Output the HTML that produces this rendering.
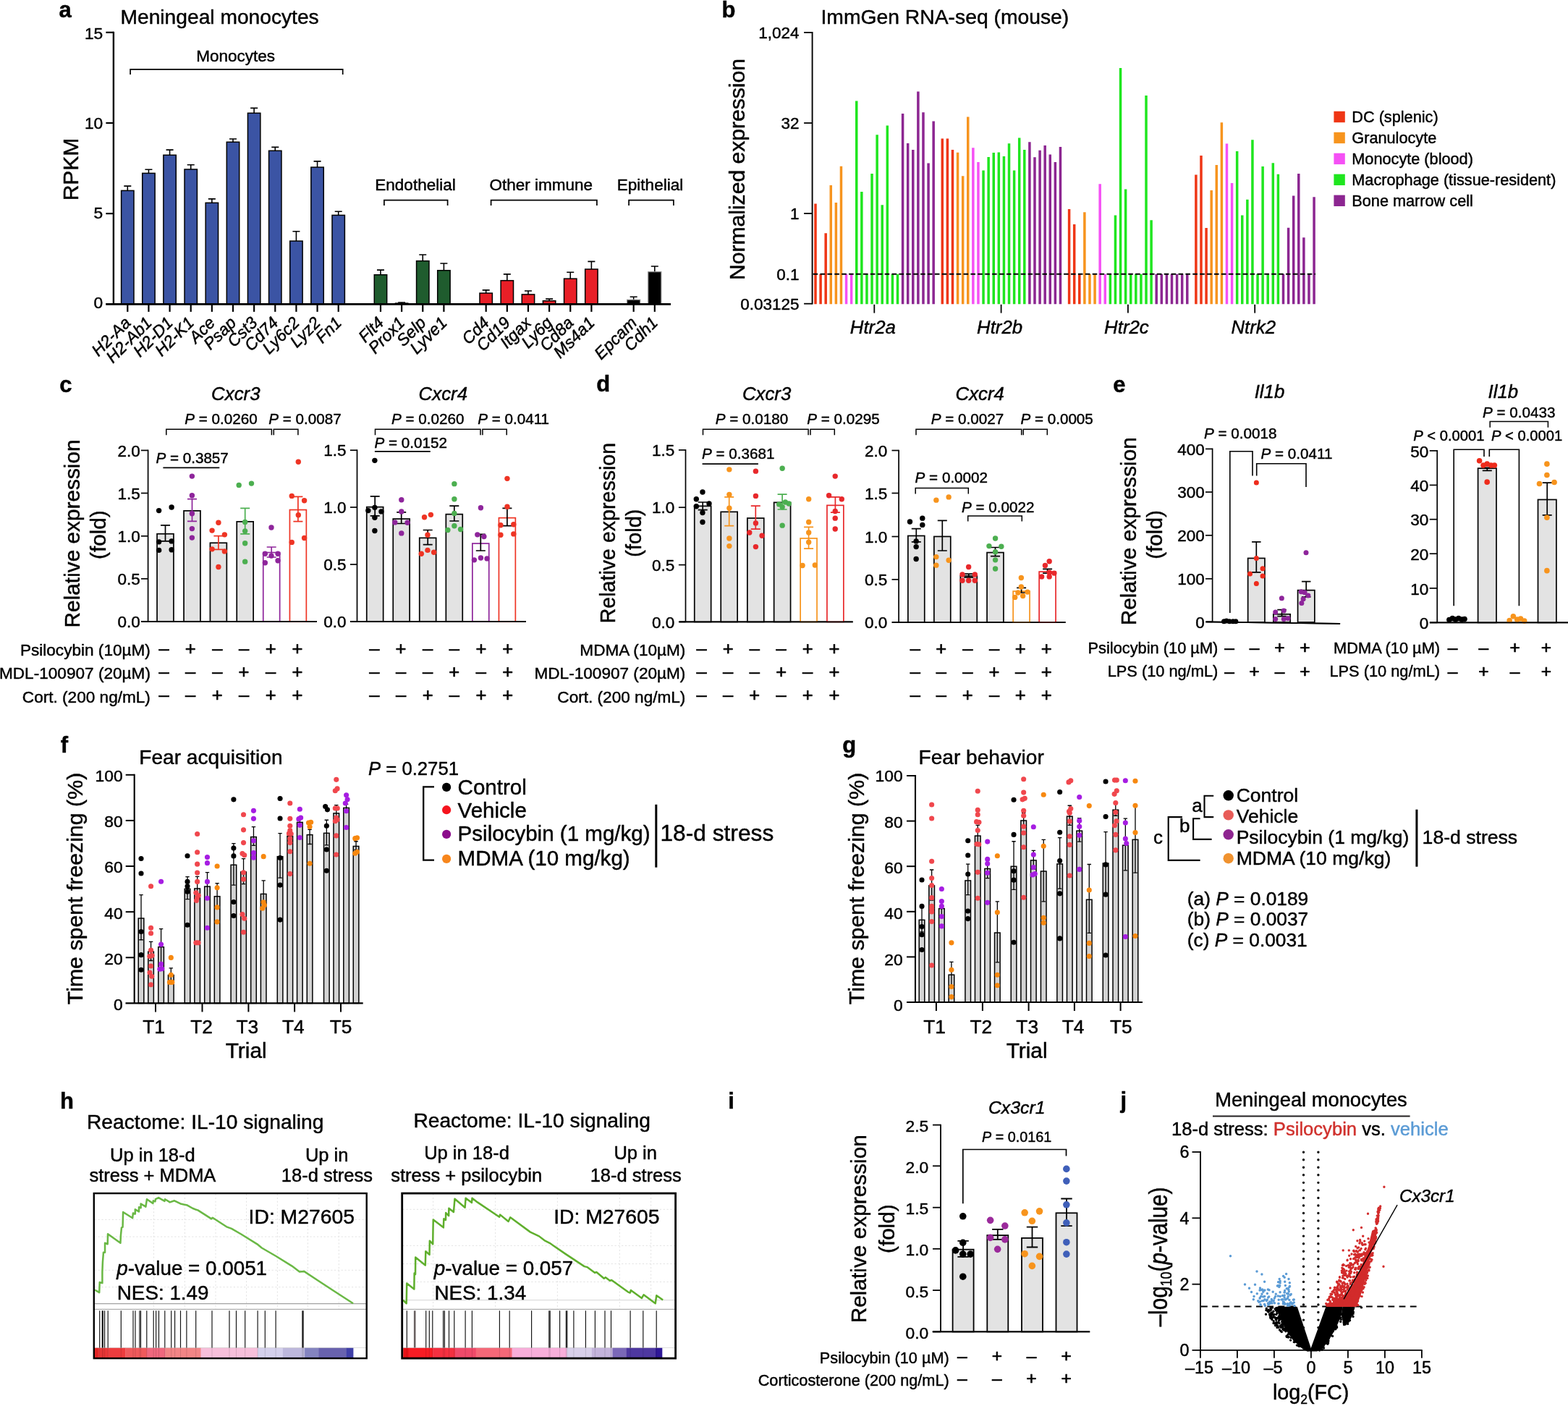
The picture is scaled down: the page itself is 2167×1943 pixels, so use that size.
<!DOCTYPE html>
<html lang="en"><head><meta charset="utf-8"><title>Figure</title>
<style>
html,body{margin:0;padding:0;background:#fff}
body{width:2167px;height:1943px;overflow:hidden}
svg{display:block;font-family:"Liberation Sans",Arial,Helvetica,sans-serif;fill:#000}
svg text{stroke:#000;stroke-width:.45px;stroke-linejoin:round}

</style></head><body>
<svg xmlns="http://www.w3.org/2000/svg" width="2167" height="1943" viewBox="0 0 2167 1943">
<rect width="2167" height="1943" fill="#fff"/>
<g id="panel_a">
<text font-weight="bold" x="81.6" y="23.8" font-size="31">a</text>
<text x="166.5" y="33" font-size="28.2">Meningeal monocytes</text>
<path d="M156.9 43.699999999999996V420.3" stroke="#000" stroke-width="2.4" fill="none"/>
<path d="M146.4 420.3H927" stroke="#000" stroke-width="2.4" fill="none"/>
<text text-anchor="end" x="142.3" y="425.75" font-size="22.8">0</text>
<path d="M146.4 295.13L156.9 295.13" stroke="#000" stroke-width="2.2"/>
<text text-anchor="end" x="142.3" y="301.7" font-size="22.8">5</text>
<path d="M146.4 169.97L156.9 169.97" stroke="#000" stroke-width="2.2"/>
<text text-anchor="end" x="142.3" y="177.65" font-size="22.8">10</text>
<path d="M146.4 44.8L156.9 44.8" stroke="#000" stroke-width="2.2"/>
<text text-anchor="end" x="142.3" y="53.6" font-size="22.8">15</text>
<text text-anchor="middle" transform="translate(108 234) rotate(-90)" font-size="30">RPKM</text>
<path d="M176.3 263.4V257.1M171.3 257.1h10" stroke="#000" stroke-width="1.6" fill="none"/>
<rect x="167.6" y="263.4" width="17.4" height="156.4" fill="#3B54A4" stroke="#000" stroke-width="1.5"/>
<path d="M176.3 420.3L176.3 430.9" stroke="#000" stroke-width="2.2"/>
<text text-anchor="end" font-style="italic" transform="translate(182.1 447.5) rotate(-45)" font-size="23">H2-Aa</text>
<path d="M205.44 239.4V234.3M200.44 234.3h10" stroke="#000" stroke-width="1.6" fill="none"/>
<rect x="196.74" y="239.4" width="17.4" height="180.4" fill="#3B54A4" stroke="#000" stroke-width="1.5"/>
<path d="M205.44 420.3L205.44 430.9" stroke="#000" stroke-width="2.2"/>
<text text-anchor="end" font-style="italic" transform="translate(211.24 447.5) rotate(-45)" font-size="23">H2-Ab1</text>
<path d="M234.58 214.3V207.1M229.58 207.1h10" stroke="#000" stroke-width="1.6" fill="none"/>
<rect x="225.88" y="214.3" width="17.4" height="205.5" fill="#3B54A4" stroke="#000" stroke-width="1.5"/>
<path d="M234.58 420.3L234.58 430.9" stroke="#000" stroke-width="2.2"/>
<text text-anchor="end" font-style="italic" transform="translate(240.38 447.5) rotate(-45)" font-size="23">H2-D1</text>
<path d="M263.72 234V227.7M258.72 227.7h10" stroke="#000" stroke-width="1.6" fill="none"/>
<rect x="255.02" y="234" width="17.4" height="185.8" fill="#3B54A4" stroke="#000" stroke-width="1.5"/>
<path d="M263.72 420.3L263.72 430.9" stroke="#000" stroke-width="2.2"/>
<text text-anchor="end" font-style="italic" transform="translate(269.52 447.5) rotate(-45)" font-size="23">H2-K1</text>
<path d="M292.86 280.3V274.9M287.86 274.9h10" stroke="#000" stroke-width="1.6" fill="none"/>
<rect x="284.16" y="280.3" width="17.4" height="139.5" fill="#3B54A4" stroke="#000" stroke-width="1.5"/>
<path d="M292.86 420.3L292.86 430.9" stroke="#000" stroke-width="2.2"/>
<text text-anchor="end" font-style="italic" transform="translate(298.66 447.5) rotate(-45)" font-size="23">Ace</text>
<path d="M322 196.3V192M317 192h10" stroke="#000" stroke-width="1.6" fill="none"/>
<rect x="313.3" y="196.3" width="17.4" height="223.5" fill="#3B54A4" stroke="#000" stroke-width="1.5"/>
<path d="M322 420.3L322 430.9" stroke="#000" stroke-width="2.2"/>
<text text-anchor="end" font-style="italic" transform="translate(327.8 447.5) rotate(-45)" font-size="23">Psap</text>
<path d="M351.14 156.3V149.4M346.14 149.4h10" stroke="#000" stroke-width="1.6" fill="none"/>
<rect x="342.44" y="156.3" width="17.4" height="263.5" fill="#3B54A4" stroke="#000" stroke-width="1.5"/>
<path d="M351.14 420.3L351.14 430.9" stroke="#000" stroke-width="2.2"/>
<text text-anchor="end" font-style="italic" transform="translate(356.94 447.5) rotate(-45)" font-size="23">Cst3</text>
<path d="M380.28 208.3V203.4M375.28 203.4h10" stroke="#000" stroke-width="1.6" fill="none"/>
<rect x="371.58" y="208.3" width="17.4" height="211.5" fill="#3B54A4" stroke="#000" stroke-width="1.5"/>
<path d="M380.28 420.3L380.28 430.9" stroke="#000" stroke-width="2.2"/>
<text text-anchor="end" font-style="italic" transform="translate(386.08 447.5) rotate(-45)" font-size="23">Cd74</text>
<path d="M409.42 333.1V319.7M404.42 319.7h10" stroke="#000" stroke-width="1.6" fill="none"/>
<rect x="400.72" y="333.1" width="17.4" height="86.7" fill="#3B54A4" stroke="#000" stroke-width="1.5"/>
<path d="M409.42 420.3L409.42 430.9" stroke="#000" stroke-width="2.2"/>
<text text-anchor="end" font-style="italic" transform="translate(415.22 447.5) rotate(-45)" font-size="23">Ly6c2</text>
<path d="M438.56 231.1V222.9M433.56 222.9h10" stroke="#000" stroke-width="1.6" fill="none"/>
<rect x="429.86" y="231.1" width="17.4" height="188.7" fill="#3B54A4" stroke="#000" stroke-width="1.5"/>
<path d="M438.56 420.3L438.56 430.9" stroke="#000" stroke-width="2.2"/>
<text text-anchor="end" font-style="italic" transform="translate(444.36 447.5) rotate(-45)" font-size="23">Lyz2</text>
<path d="M467.7 297.4V292.3M462.7 292.3h10" stroke="#000" stroke-width="1.6" fill="none"/>
<rect x="459" y="297.4" width="17.4" height="122.4" fill="#3B54A4" stroke="#000" stroke-width="1.5"/>
<path d="M467.7 420.3L467.7 430.9" stroke="#000" stroke-width="2.2"/>
<text text-anchor="end" font-style="italic" transform="translate(473.5 447.5) rotate(-45)" font-size="23">Fn1</text>
<path d="M525.98 379.7V373.1M520.98 373.1h10" stroke="#000" stroke-width="1.6" fill="none"/>
<rect x="517.28" y="379.7" width="17.4" height="40.1" fill="#1F5C2E" stroke="#000" stroke-width="1.5"/>
<path d="M525.98 420.3L525.98 430.9" stroke="#000" stroke-width="2.2"/>
<text text-anchor="end" font-style="italic" transform="translate(531.78 447.5) rotate(-45)" font-size="23">Flt4</text>
<path d="M555.12 419.1V418M550.12 418h10" stroke="#000" stroke-width="1.6" fill="none"/>
<rect x="546.42" y="419.1" width="17.4" height="0.7" fill="#1F5C2E" stroke="#000" stroke-width="1.5"/>
<path d="M555.12 420.3L555.12 430.9" stroke="#000" stroke-width="2.2"/>
<text text-anchor="end" font-style="italic" transform="translate(560.92 447.5) rotate(-45)" font-size="23">Prox1</text>
<path d="M584.26 360.6V352M579.26 352h10" stroke="#000" stroke-width="1.6" fill="none"/>
<rect x="575.56" y="360.6" width="17.4" height="59.2" fill="#1F5C2E" stroke="#000" stroke-width="1.5"/>
<path d="M584.26 420.3L584.26 430.9" stroke="#000" stroke-width="2.2"/>
<text text-anchor="end" font-style="italic" transform="translate(590.06 447.5) rotate(-45)" font-size="23">Selp</text>
<path d="M613.4 373.7V364M608.4 364h10" stroke="#000" stroke-width="1.6" fill="none"/>
<rect x="604.7" y="373.7" width="17.4" height="46.1" fill="#1F5C2E" stroke="#000" stroke-width="1.5"/>
<path d="M613.4 420.3L613.4 430.9" stroke="#000" stroke-width="2.2"/>
<text text-anchor="end" font-style="italic" transform="translate(619.2 447.5) rotate(-45)" font-size="23">Lyve1</text>
<path d="M671.68 405.1V400.9M666.68 400.9h10" stroke="#000" stroke-width="1.6" fill="none"/>
<rect x="662.98" y="405.1" width="17.4" height="14.7" fill="#E81F27" stroke="#000" stroke-width="1.5"/>
<path d="M671.68 420.3L671.68 430.9" stroke="#000" stroke-width="2.2"/>
<text text-anchor="end" font-style="italic" transform="translate(677.48 447.5) rotate(-45)" font-size="23">Cd4</text>
<path d="M700.82 387.7V378.9M695.82 378.9h10" stroke="#000" stroke-width="1.6" fill="none"/>
<rect x="692.12" y="387.7" width="17.4" height="32.1" fill="#E81F27" stroke="#000" stroke-width="1.5"/>
<path d="M700.82 420.3L700.82 430.9" stroke="#000" stroke-width="2.2"/>
<text text-anchor="end" font-style="italic" transform="translate(706.62 447.5) rotate(-45)" font-size="23">Cd19</text>
<path d="M729.96 406.9V402M724.96 402h10" stroke="#000" stroke-width="1.6" fill="none"/>
<rect x="721.26" y="406.9" width="17.4" height="12.9" fill="#E81F27" stroke="#000" stroke-width="1.5"/>
<path d="M729.96 420.3L729.96 430.9" stroke="#000" stroke-width="2.2"/>
<text text-anchor="end" font-style="italic" transform="translate(735.76 447.5) rotate(-45)" font-size="23">Itgax</text>
<path d="M759.1 415.7V413.1M754.1 413.1h10" stroke="#000" stroke-width="1.6" fill="none"/>
<rect x="750.4" y="415.7" width="17.4" height="4.1" fill="#E81F27" stroke="#000" stroke-width="1.5"/>
<path d="M759.1 420.3L759.1 430.9" stroke="#000" stroke-width="2.2"/>
<text text-anchor="end" font-style="italic" transform="translate(764.9 447.5) rotate(-45)" font-size="23">Ly6g</text>
<path d="M788.24 385.1V376.3M783.24 376.3h10" stroke="#000" stroke-width="1.6" fill="none"/>
<rect x="779.54" y="385.1" width="17.4" height="34.7" fill="#E81F27" stroke="#000" stroke-width="1.5"/>
<path d="M788.24 420.3L788.24 430.9" stroke="#000" stroke-width="2.2"/>
<text text-anchor="end" font-style="italic" transform="translate(794.04 447.5) rotate(-45)" font-size="23">Cd8a</text>
<path d="M817.38 372V361.4M812.38 361.4h10" stroke="#000" stroke-width="1.6" fill="none"/>
<rect x="808.68" y="372" width="17.4" height="47.8" fill="#E81F27" stroke="#000" stroke-width="1.5"/>
<path d="M817.38 420.3L817.38 430.9" stroke="#000" stroke-width="2.2"/>
<text text-anchor="end" font-style="italic" transform="translate(823.18 447.5) rotate(-45)" font-size="23">Ms4a1</text>
<path d="M875.66 414.3V410.3M870.66 410.3h10" stroke="#000" stroke-width="1.6" fill="none"/>
<rect x="866.66" y="414.3" width="18" height="6" fill="#000" stroke="#888" stroke-width="1.2"/>
<path d="M875.66 420.3L875.66 430.9" stroke="#000" stroke-width="2.2"/>
<text text-anchor="end" font-style="italic" transform="translate(881.46 447.5) rotate(-45)" font-size="23">Epcam</text>
<path d="M904.8 375.7V368M899.8 368h10" stroke="#000" stroke-width="1.6" fill="none"/>
<rect x="895.8" y="375.7" width="18" height="44.6" fill="#000" stroke="#888" stroke-width="1.2"/>
<path d="M904.8 420.3L904.8 430.9" stroke="#000" stroke-width="2.2"/>
<text text-anchor="end" font-style="italic" transform="translate(910.6 447.5) rotate(-45)" font-size="23">Cdh1</text>
<path d="M146.4 420.3H927" stroke="#000" stroke-width="2.4" fill="none"/>
<text text-anchor="middle" x="325.6" y="84.5" font-size="22.5">Monocytes</text>
<path d="M180.1 103.1V95.8H473.7V103.1" stroke="#000" stroke-width="1.7" fill="none"/>
<text text-anchor="middle" x="574" y="262.9" font-size="22.5">Endothelial</text>
<path d="M530.9 283.9V276.6H618.6V283.9" stroke="#000" stroke-width="1.7" fill="none"/>
<text text-anchor="middle" x="747.8" y="262.9" font-size="22.5">Other immune</text>
<path d="M678.6 283.9V276.6H824.9V283.9" stroke="#000" stroke-width="1.7" fill="none"/>
<text text-anchor="middle" x="898.5" y="262.9" font-size="22.5">Epithelial</text>
<path d="M869.1 283.9V276.6H930.9V283.9" stroke="#000" stroke-width="1.7" fill="none"/>
</g>
<g id="panel_b">
<text font-weight="bold" x="997.5" y="23.6" font-size="31">b</text>
<text x="1134.5" y="32.6" font-size="28.3">ImmGen RNA-seq (mouse)</text>
<path d="M1127 420.2V281.4M1134.09 420.2V378.8M1141.19 420.2V322.2" stroke="#EF3615" stroke-width="3.5" fill="none"/>
<path d="M1148.28 420.2V256M1155.38 420.2V279.9M1162.47 420.2V229.7" stroke="#F7941E" stroke-width="3.5" fill="none"/>
<path d="M1169.56 420.2V378.8M1176.66 420.2V378.8" stroke="#F550F5" stroke-width="3.5" fill="none"/>
<path d="M1183.75 420.2V139.5M1190.85 420.2V264.9M1197.94 420.2V378.8M1205.03 420.2V240M1212.13 420.2V186.2M1219.22 420.2V283.2M1226.32 420.2V173.5M1233.41 420.2V378.8M1240.5 420.2V378.8" stroke="#1FE61F" stroke-width="3.5" fill="none"/>
<path d="M1247.6 420.2V157M1254.69 420.2V198M1261.79 420.2V206.9M1268.88 420.2V126.5M1275.97 420.2V155.2M1283.07 420.2V225.5M1290.16 420.2V167.6" stroke="#8C2691" stroke-width="3.5" fill="none"/>
<path d="M1208.3 420.8L1208.3 432.6" stroke="#000" stroke-width="1.8"/>
<text text-anchor="middle" font-style="italic" x="1206.3" y="460.8" font-size="25.8">Htr2a</text>
<path d="M1302.3 420.2V191.5M1309.39 420.2V191.5M1316.49 420.2V206.9" stroke="#EF3615" stroke-width="3.5" fill="none"/>
<path d="M1323.58 420.2V210.8M1330.68 420.2V243.3M1337.77 420.2V161.4" stroke="#F7941E" stroke-width="3.5" fill="none"/>
<path d="M1344.86 420.2V204.3M1351.96 420.2V224.1" stroke="#F550F5" stroke-width="3.5" fill="none"/>
<path d="M1359.05 420.2V235.6M1366.15 420.2V217M1373.24 420.2V211.1M1380.33 420.2V210.5M1387.43 420.2V216.1M1394.52 420.2V198.3M1401.62 420.2V235.6M1408.71 420.2V190.4M1415.8 420.2V206.9" stroke="#1FE61F" stroke-width="3.5" fill="none"/>
<path d="M1422.9 420.2V196.3M1429.99 420.2V217.3M1437.09 420.2V207.8M1444.18 420.2V200.9M1451.27 420.2V213.4M1458.37 420.2V223.9M1465.46 420.2V203" stroke="#8C2691" stroke-width="3.5" fill="none"/>
<path d="M1383.6 420.8L1383.6 432.6" stroke="#000" stroke-width="1.8"/>
<text text-anchor="middle" font-style="italic" x="1381.6" y="460.8" font-size="25.8">Htr2b</text>
<path d="M1477.6 420.2V289M1484.69 420.2V309.9M1491.79 420.2V378.8" stroke="#EF3615" stroke-width="3.5" fill="none"/>
<path d="M1498.88 420.2V293.2M1505.98 420.2V378.8M1513.07 420.2V378.8" stroke="#F7941E" stroke-width="3.5" fill="none"/>
<path d="M1520.16 420.2V254.2M1527.26 420.2V378.8" stroke="#F550F5" stroke-width="3.5" fill="none"/>
<path d="M1534.35 420.2V378.8M1541.45 420.2V297.4M1548.54 420.2V94M1555.63 420.2V261.5M1562.73 420.2V378.8M1569.82 420.2V378.8M1576.92 420.2V378.8M1584.01 420.2V132M1591.1 420.2V304.3" stroke="#1FE61F" stroke-width="3.5" fill="none"/>
<path d="M1598.2 420.2V378.8M1605.29 420.2V378.8M1612.39 420.2V378.8M1619.48 420.2V378.8M1626.57 420.2V378.8M1633.67 420.2V378.8M1640.76 420.2V378.8" stroke="#8C2691" stroke-width="3.5" fill="none"/>
<path d="M1558.9 420.8L1558.9 432.6" stroke="#000" stroke-width="1.8"/>
<text text-anchor="middle" font-style="italic" x="1556.9" y="460.8" font-size="25.8">Htr2c</text>
<path d="M1652.9 420.2V241.6M1659.99 420.2V214.9M1667.09 420.2V315.1" stroke="#EF3615" stroke-width="3.5" fill="none"/>
<path d="M1674.18 420.2V263.1M1681.28 420.2V228.1M1688.37 420.2V169.2" stroke="#F7941E" stroke-width="3.5" fill="none"/>
<path d="M1695.46 420.2V198.6M1702.56 420.2V252.9" stroke="#F550F5" stroke-width="3.5" fill="none"/>
<path d="M1709.65 420.2V208.9M1716.75 420.2V297.4M1723.84 420.2V275.7M1730.93 420.2V193.2M1738.03 420.2V378.8M1745.12 420.2V230.1M1752.22 420.2V378.8M1759.31 420.2V225.3M1766.4 420.2V240.8" stroke="#1FE61F" stroke-width="3.5" fill="none"/>
<path d="M1773.5 420.2V378.8M1780.59 420.2V314.7M1787.69 420.2V270.4M1794.78 420.2V240M1801.87 420.2V328.3M1808.97 420.2V378.8M1816.06 420.2V272.3" stroke="#8C2691" stroke-width="3.5" fill="none"/>
<path d="M1734.2 420.8L1734.2 432.6" stroke="#000" stroke-width="1.8"/>
<text text-anchor="middle" font-style="italic" x="1732.2" y="460.8" font-size="25.8">Ntrk2</text>
<path d="M1123.6 378.8L1818 378.8" stroke="#000" stroke-width="1.9" stroke-dasharray="6.6 3.3"/>
<path d="M1122.6 44.0V420.6" stroke="#000" stroke-width="1.9" fill="none"/>
<path d="M1111.1 44.9L1122.6 44.9" stroke="#000" stroke-width="1.8"/>
<text text-anchor="end" x="1104.5" y="53" font-size="22.5">1,024</text>
<path d="M1111.1 170L1122.6 170" stroke="#000" stroke-width="1.8"/>
<text text-anchor="end" x="1104.5" y="178.1" font-size="22.5">32</text>
<path d="M1111.1 295L1122.6 295" stroke="#000" stroke-width="1.8"/>
<text text-anchor="end" x="1104.5" y="303.1" font-size="22.5">1</text>
<text text-anchor="end" x="1104.5" y="387.1" font-size="22.5">0.1</text>
<path d="M1111.1 419.7L1122.6 419.7" stroke="#000" stroke-width="1.8"/>
<text text-anchor="end" x="1104.5" y="427.8" font-size="22.5">0.03125</text>
<text text-anchor="middle" transform="translate(1028.9 234) rotate(-90)" font-size="30.1">Normalized expression</text>
<rect x="1843.4" y="153.8" width="15.4" height="15.4" fill="#EF3615"/>
<text x="1868.3" y="169.4" font-size="21.7">DC (splenic)</text>
<rect x="1843.4" y="182.75" width="15.4" height="15.4" fill="#F7941E"/>
<text x="1868.3" y="198.35" font-size="21.7">Granulocyte</text>
<rect x="1843.4" y="211.7" width="15.4" height="15.4" fill="#F550F5"/>
<text x="1868.3" y="227.3" font-size="21.7">Monocyte (blood)</text>
<rect x="1843.4" y="240.65" width="15.4" height="15.4" fill="#1FE61F"/>
<text x="1868.3" y="256.25" font-size="21.7">Macrophage (tissue-resident)</text>
<rect x="1843.4" y="269.6" width="15.4" height="15.4" fill="#8C2691"/>
<text x="1868.3" y="285.2" font-size="21.7">Bone marrow cell</text>
</g>
<g id="panel_c">
<text font-weight="bold" x="82.3" y="541.5" font-size="31">c</text>
<text text-anchor="middle" transform="translate(109.9 737.4) rotate(-90)" font-size="29.8">Relative expression</text>
<text text-anchor="middle" transform="translate(146.2 739.1) rotate(-90)" font-size="29.7">(fold)</text>
<text text-anchor="middle" font-style="italic" x="325.8" y="553.1" font-size="25.8">Cxcr3</text>
<path d="M204.6 621.55V858.8" stroke="#000" stroke-width="1.7" fill="none"/>
<path d="M195.6 858.8L437.9 858.8" stroke="#000" stroke-width="1.7" fill="none"/>
<path d="M195 622.4L204.6 622.4" stroke="#000" stroke-width="1.7"/>
<text text-anchor="end" x="193.7" y="630.5" font-size="22.5">2.0</text>
<path d="M195 681.5L204.6 681.5" stroke="#000" stroke-width="1.7"/>
<text text-anchor="end" x="193.7" y="689.6" font-size="22.5">1.5</text>
<path d="M195 740.8L204.6 740.8" stroke="#000" stroke-width="1.7"/>
<text text-anchor="end" x="193.7" y="748.9" font-size="22.5">1.0</text>
<path d="M195 799.8L204.6 799.8" stroke="#000" stroke-width="1.7"/>
<text text-anchor="end" x="193.7" y="807.9" font-size="22.5">0.5</text>
<path d="M195 858.8L204.6 858.8" stroke="#000" stroke-width="1.7"/>
<text text-anchor="end" x="193.7" y="866.9" font-size="22.5">0.0</text>
<rect x="217.05" y="737.75" width="22.9" height="121.05" fill="#E3E3E3" stroke="#000" stroke-width="1.7"/>
<rect x="254.05" y="705.85" width="22.9" height="152.95" fill="#E3E3E3" stroke="#000" stroke-width="1.7"/>
<rect x="290.45" y="750.25" width="22.9" height="108.55" fill="#E3E3E3" stroke="#000" stroke-width="1.7"/>
<rect x="327.25" y="720.85" width="22.9" height="137.95" fill="#E3E3E3" stroke="#000" stroke-width="1.7"/>
<rect x="363.75" y="763.55" width="22.9" height="95.25" fill="#fff" stroke="#8E259B" stroke-width="1.7"/>
<rect x="400.45" y="704.55" width="22.9" height="154.25" fill="#fff" stroke="#EE3424" stroke-width="1.7"/>
<path d="M228.5 725.8V747.9M222 725.8h13M222 747.9h13" stroke="#000" stroke-width="1.7" fill="none"/>
<path d="M265.5 689.6V720.4M259 689.6h13M259 720.4h13" stroke="#8E259B" stroke-width="1.7" fill="none"/>
<path d="M301.9 740.6V759.4M295.4 740.6h13M295.4 759.4h13" stroke="#EE3424" stroke-width="1.7" fill="none"/>
<path d="M338.7 702.3V737.9M332.2 702.3h13M332.2 737.9h13" stroke="#4CAF50" stroke-width="1.7" fill="none"/>
<path d="M375.2 756V770M368.7 756h13M368.7 770h13" stroke="#8E259B" stroke-width="1.7" fill="none"/>
<path d="M411.9 686.3V720.6M405.4 686.3h13M405.4 720.6h13" stroke="#EE3424" stroke-width="1.7" fill="none"/>
<circle cx="219.62" cy="705.58" r="3.7" fill="#000"/>
<circle cx="237.12" cy="700.96" r="3.7" fill="#000"/>
<circle cx="219.62" cy="748.85" r="3.7" fill="#000"/>
<circle cx="237.12" cy="747.88" r="3.7" fill="#000"/>
<circle cx="219.62" cy="760.38" r="3.7" fill="#000"/>
<circle cx="237.12" cy="759.81" r="3.7" fill="#000"/>
<circle cx="265.38" cy="658.08" r="3.7" fill="#8E259B"/>
<circle cx="265.38" cy="684.81" r="3.7" fill="#8E259B"/>
<circle cx="265.38" cy="709.81" r="3.7" fill="#8E259B"/>
<circle cx="265.38" cy="730.58" r="3.7" fill="#8E259B"/>
<circle cx="265.38" cy="743.08" r="3.7" fill="#8E259B"/>
<circle cx="301.92" cy="722.31" r="3.7" fill="#EE3424"/>
<circle cx="293.08" cy="733.08" r="3.7" fill="#EE3424"/>
<circle cx="310.38" cy="738.85" r="3.7" fill="#EE3424"/>
<circle cx="293.08" cy="758.85" r="3.7" fill="#EE3424"/>
<circle cx="310.38" cy="761.92" r="3.7" fill="#EE3424"/>
<circle cx="301.92" cy="783.46" r="3.7" fill="#EE3424"/>
<circle cx="330.19" cy="670.38" r="3.7" fill="#4CAF50"/>
<circle cx="347.5" cy="668.08" r="3.7" fill="#4CAF50"/>
<circle cx="338.65" cy="721.54" r="3.7" fill="#4CAF50"/>
<circle cx="338.65" cy="733.85" r="3.7" fill="#4CAF50"/>
<circle cx="338.65" cy="750.77" r="3.7" fill="#4CAF50"/>
<circle cx="338.65" cy="776.15" r="3.7" fill="#4CAF50"/>
<circle cx="375" cy="729.04" r="3.7" fill="#8E259B"/>
<circle cx="366.35" cy="765.19" r="3.7" fill="#8E259B"/>
<circle cx="384.04" cy="765.19" r="3.7" fill="#8E259B"/>
<circle cx="375" cy="768.08" r="3.7" fill="#8E259B"/>
<circle cx="366.35" cy="777.69" r="3.7" fill="#8E259B"/>
<circle cx="384.04" cy="774.81" r="3.7" fill="#8E259B"/>
<circle cx="412.31" cy="638.27" r="3.7" fill="#EE3424"/>
<circle cx="403.27" cy="685.38" r="3.7" fill="#EE3424"/>
<circle cx="420.58" cy="691.73" r="3.7" fill="#EE3424"/>
<circle cx="412.31" cy="711.73" r="3.7" fill="#EE3424"/>
<circle cx="420.58" cy="743.46" r="3.7" fill="#EE3424"/>
<circle cx="403.27" cy="749.42" r="3.7" fill="#EE3424"/>
<path d="M195.6 858.8L437.9 858.8" stroke="#000" stroke-width="1.7"/>
<text x="255.2" y="586" font-size="20.65"><tspan font-style="italic">P</tspan> = 0.0260</text>
<text x="371.2" y="586" font-size="20.65"><tspan font-style="italic">P</tspan> = 0.0087</text>
<path d="M229.8 601.3V593.3H375.4V601.3" stroke="#000" stroke-width="1.5" fill="none"/>
<path d="M378.3 601.3V593.3H411.9V601.3" stroke="#000" stroke-width="1.5" fill="none"/>
<text x="215.4" y="639.6" font-size="20.65"><tspan font-style="italic">P</tspan> = 0.3857</text>
<path d="M225.4 646.3L303.3 646.3" stroke="#000" stroke-width="1.7"/>
<text text-anchor="end" x="207.9" y="906" font-size="22.6">Psilocybin (10µM)</text>
<text text-anchor="middle" x="226.5" y="904.8" font-size="25.5" style="stroke-width:.7px">–</text>
<text text-anchor="middle" x="263.2" y="904.8" font-size="25.5" style="stroke-width:.7px">+</text>
<text text-anchor="middle" x="300.3" y="904.8" font-size="25.5" style="stroke-width:.7px">–</text>
<text text-anchor="middle" x="337" y="904.8" font-size="25.5" style="stroke-width:.7px">–</text>
<text text-anchor="middle" x="374.1" y="904.8" font-size="25.5" style="stroke-width:.7px">+</text>
<text text-anchor="middle" x="411" y="904.8" font-size="25.5" style="stroke-width:.7px">+</text>
<text text-anchor="end" x="207.9" y="938" font-size="22.6">MDL-100907 (20µM)</text>
<text text-anchor="middle" x="226.5" y="936.8" font-size="25.5" style="stroke-width:.7px">–</text>
<text text-anchor="middle" x="263.2" y="936.8" font-size="25.5" style="stroke-width:.7px">–</text>
<text text-anchor="middle" x="300.3" y="936.8" font-size="25.5" style="stroke-width:.7px">–</text>
<text text-anchor="middle" x="337" y="936.8" font-size="25.5" style="stroke-width:.7px">+</text>
<text text-anchor="middle" x="374.1" y="936.8" font-size="25.5" style="stroke-width:.7px">–</text>
<text text-anchor="middle" x="411" y="936.8" font-size="25.5" style="stroke-width:.7px">+</text>
<text text-anchor="end" x="207.9" y="970.6" font-size="22.6">Cort. (200 ng/mL)</text>
<text text-anchor="middle" x="226.5" y="969.4" font-size="25.5" style="stroke-width:.7px">–</text>
<text text-anchor="middle" x="263.2" y="969.4" font-size="25.5" style="stroke-width:.7px">–</text>
<text text-anchor="middle" x="300.3" y="969.4" font-size="25.5" style="stroke-width:.7px">+</text>
<text text-anchor="middle" x="337" y="969.4" font-size="25.5" style="stroke-width:.7px">–</text>
<text text-anchor="middle" x="374.1" y="969.4" font-size="25.5" style="stroke-width:.7px">+</text>
<text text-anchor="middle" x="411" y="969.4" font-size="25.5" style="stroke-width:.7px">+</text>
<text text-anchor="middle" font-style="italic" x="612.3" y="553.1" font-size="25.8">Cxcr4</text>
<path d="M493.5 621.35V858.8" stroke="#000" stroke-width="1.7" fill="none"/>
<path d="M484.2 858.8L726.9 858.8" stroke="#000" stroke-width="1.7" fill="none"/>
<path d="M483.9 622.2L493.5 622.2" stroke="#000" stroke-width="1.7"/>
<text text-anchor="end" x="478.5" y="630.3" font-size="22.5">1.5</text>
<path d="M483.9 701L493.5 701" stroke="#000" stroke-width="1.7"/>
<text text-anchor="end" x="478.5" y="709.1" font-size="22.5">1.0</text>
<path d="M483.9 780L493.5 780" stroke="#000" stroke-width="1.7"/>
<text text-anchor="end" x="478.5" y="788.1" font-size="22.5">0.5</text>
<path d="M483.9 858.8L493.5 858.8" stroke="#000" stroke-width="1.7"/>
<text text-anchor="end" x="478.5" y="866.9" font-size="22.5">0.0</text>
<rect x="506.75" y="700.65" width="22.9" height="158.15" fill="#E3E3E3" stroke="#000" stroke-width="1.7"/>
<rect x="543.25" y="717.05" width="22.9" height="141.75" fill="#E3E3E3" stroke="#000" stroke-width="1.7"/>
<rect x="579.75" y="743.35" width="22.9" height="115.45" fill="#E3E3E3" stroke="#000" stroke-width="1.7"/>
<rect x="616.35" y="710.65" width="22.9" height="148.15" fill="#E3E3E3" stroke="#000" stroke-width="1.7"/>
<rect x="652.85" y="751.05" width="22.9" height="107.75" fill="#fff" stroke="#8E259B" stroke-width="1.7"/>
<rect x="689.45" y="715.65" width="22.9" height="143.15" fill="#fff" stroke="#EE3424" stroke-width="1.7"/>
<path d="M518.2 685.8V712.9M511.7 685.8h13M511.7 712.9h13" stroke="#000" stroke-width="1.7" fill="none"/>
<path d="M554.7 707.9V723.5M548.2 707.9h13M548.2 723.5h13" stroke="#000" stroke-width="1.7" fill="none"/>
<path d="M591.2 732.5V752.7M584.7 732.5h13M584.7 752.7h13" stroke="#000" stroke-width="1.7" fill="none"/>
<path d="M627.8 699.2V720M621.3 699.2h13M621.3 720h13" stroke="#000" stroke-width="1.7" fill="none"/>
<path d="M664.3 738.3V761M657.8 738.3h13M657.8 761h13" stroke="#000" stroke-width="1.7" fill="none"/>
<path d="M700.9 702.3V726.7M694.4 702.3h13M694.4 726.7h13" stroke="#000" stroke-width="1.7" fill="none"/>
<circle cx="517.88" cy="636.35" r="3.7" fill="#000"/>
<circle cx="508.85" cy="705.58" r="3.7" fill="#000"/>
<circle cx="526.92" cy="706.92" r="3.7" fill="#000"/>
<circle cx="517.88" cy="701.35" r="3.7" fill="#000"/>
<circle cx="517.88" cy="715.19" r="3.7" fill="#000"/>
<circle cx="517.88" cy="733.46" r="3.7" fill="#000"/>
<circle cx="554.81" cy="690.77" r="3.7" fill="#8E259B"/>
<circle cx="554.81" cy="706.92" r="3.7" fill="#8E259B"/>
<circle cx="545.77" cy="721.92" r="3.7" fill="#8E259B"/>
<circle cx="563.08" cy="722.31" r="3.7" fill="#8E259B"/>
<circle cx="554.81" cy="736.92" r="3.7" fill="#8E259B"/>
<circle cx="586.54" cy="714.81" r="3.7" fill="#EE3424"/>
<circle cx="595.38" cy="711.35" r="3.7" fill="#EE3424"/>
<circle cx="590.96" cy="739.23" r="3.7" fill="#EE3424"/>
<circle cx="582.31" cy="765.19" r="3.7" fill="#EE3424"/>
<circle cx="599.62" cy="763.27" r="3.7" fill="#EE3424"/>
<circle cx="590.96" cy="760.38" r="3.7" fill="#EE3424"/>
<circle cx="627.88" cy="668.65" r="3.7" fill="#4CAF50"/>
<circle cx="627.88" cy="689.81" r="3.7" fill="#4CAF50"/>
<circle cx="627.88" cy="709.42" r="3.7" fill="#4CAF50"/>
<circle cx="618.85" cy="732.5" r="3.7" fill="#4CAF50"/>
<circle cx="636.54" cy="731.54" r="3.7" fill="#4CAF50"/>
<circle cx="627.88" cy="726.73" r="3.7" fill="#4CAF50"/>
<circle cx="664.42" cy="701.73" r="3.7" fill="#8E259B"/>
<circle cx="659.81" cy="738.85" r="3.7" fill="#8E259B"/>
<circle cx="668.85" cy="741.54" r="3.7" fill="#8E259B"/>
<circle cx="655.38" cy="773.85" r="3.7" fill="#8E259B"/>
<circle cx="664.42" cy="770.96" r="3.7" fill="#8E259B"/>
<circle cx="673.08" cy="771.92" r="3.7" fill="#8E259B"/>
<circle cx="700.96" cy="661.35" r="3.7" fill="#EE3424"/>
<circle cx="700.96" cy="700.19" r="3.7" fill="#EE3424"/>
<circle cx="691.92" cy="725.77" r="3.7" fill="#EE3424"/>
<circle cx="709.81" cy="724.81" r="3.7" fill="#EE3424"/>
<circle cx="691.92" cy="739.23" r="3.7" fill="#EE3424"/>
<circle cx="709.81" cy="737.88" r="3.7" fill="#EE3424"/>
<path d="M484.2 858.8L726.9 858.8" stroke="#000" stroke-width="1.7"/>
<text x="541" y="586" font-size="20.65"><tspan font-style="italic">P</tspan> = 0.0260</text>
<text x="660.2" y="586" font-size="20.65"><tspan font-style="italic">P</tspan> = 0.0411</text>
<path d="M518.5 601.3V593.3H664V601.3" stroke="#000" stroke-width="1.5" fill="none"/>
<path d="M666.9 601.3V593.3H700.2V601.3" stroke="#000" stroke-width="1.5" fill="none"/>
<text x="517.5" y="619" font-size="20.65"><tspan font-style="italic">P</tspan> = 0.0152</text>
<path d="M517.9 623.8L594.8 623.8" stroke="#000" stroke-width="1.7"/>
<text text-anchor="middle" x="517.4" y="904.8" font-size="25.5" style="stroke-width:.7px">–</text>
<text text-anchor="middle" x="554" y="904.8" font-size="25.5" style="stroke-width:.7px">+</text>
<text text-anchor="middle" x="591.1" y="904.8" font-size="25.5" style="stroke-width:.7px">–</text>
<text text-anchor="middle" x="627.8" y="904.8" font-size="25.5" style="stroke-width:.7px">–</text>
<text text-anchor="middle" x="664.9" y="904.8" font-size="25.5" style="stroke-width:.7px">+</text>
<text text-anchor="middle" x="701.6" y="904.8" font-size="25.5" style="stroke-width:.7px">+</text>
<text text-anchor="middle" x="517.4" y="936.8" font-size="25.5" style="stroke-width:.7px">–</text>
<text text-anchor="middle" x="554" y="936.8" font-size="25.5" style="stroke-width:.7px">–</text>
<text text-anchor="middle" x="591.1" y="936.8" font-size="25.5" style="stroke-width:.7px">–</text>
<text text-anchor="middle" x="627.8" y="936.8" font-size="25.5" style="stroke-width:.7px">+</text>
<text text-anchor="middle" x="664.9" y="936.8" font-size="25.5" style="stroke-width:.7px">–</text>
<text text-anchor="middle" x="701.6" y="936.8" font-size="25.5" style="stroke-width:.7px">+</text>
<text text-anchor="middle" x="517.4" y="969.4" font-size="25.5" style="stroke-width:.7px">–</text>
<text text-anchor="middle" x="554" y="969.4" font-size="25.5" style="stroke-width:.7px">–</text>
<text text-anchor="middle" x="591.1" y="969.4" font-size="25.5" style="stroke-width:.7px">+</text>
<text text-anchor="middle" x="627.8" y="969.4" font-size="25.5" style="stroke-width:.7px">–</text>
<text text-anchor="middle" x="664.9" y="969.4" font-size="25.5" style="stroke-width:.7px">+</text>
<text text-anchor="middle" x="701.6" y="969.4" font-size="25.5" style="stroke-width:.7px">+</text>
</g>
<g id="panel_d">
<text font-weight="bold" x="824.3" y="540.6" font-size="31">d</text>
<text text-anchor="middle" transform="translate(849.6 736.6) rotate(-90)" font-size="28.6">Relative expression</text>
<text text-anchor="middle" transform="translate(886.2 736.6) rotate(-90)" font-size="29">(fold)</text>
<text text-anchor="middle" font-style="italic" x="1059.6" y="552.7" font-size="25.8">Cxcr3</text>
<path d="M947.5 621.05V859.4" stroke="#000" stroke-width="1.7" fill="none"/>
<path d="M938.7 859.4L1178.7 859.4" stroke="#000" stroke-width="1.7" fill="none"/>
<path d="M937.9 621.9L947.5 621.9" stroke="#000" stroke-width="1.7"/>
<text text-anchor="end" x="932.2" y="630" font-size="22.5">1.5</text>
<path d="M937.9 701.2L947.5 701.2" stroke="#000" stroke-width="1.7"/>
<text text-anchor="end" x="932.2" y="709.3" font-size="22.5">1.0</text>
<path d="M937.9 780.6L947.5 780.6" stroke="#000" stroke-width="1.7"/>
<text text-anchor="end" x="932.2" y="788.7" font-size="22.5">0.5</text>
<path d="M937.9 859.4L947.5 859.4" stroke="#000" stroke-width="1.7"/>
<text text-anchor="end" x="932.2" y="867.5" font-size="22.5">0.0</text>
<rect x="959.75" y="699.35" width="22.9" height="160.05" fill="#E3E3E3" stroke="#000" stroke-width="1.7"/>
<rect x="996.25" y="707.35" width="22.9" height="152.05" fill="#E3E3E3" stroke="#000" stroke-width="1.7"/>
<rect x="1032.85" y="716.05" width="22.9" height="143.35" fill="#E3E3E3" stroke="#000" stroke-width="1.7"/>
<rect x="1069.65" y="694.35" width="22.9" height="165.05" fill="#E3E3E3" stroke="#000" stroke-width="1.7"/>
<rect x="1106.15" y="743.95" width="22.9" height="115.45" fill="#fff" stroke="#F7941D" stroke-width="1.7"/>
<rect x="1142.95" y="698.35" width="22.9" height="161.05" fill="#fff" stroke="#E8282B" stroke-width="1.7"/>
<path d="M971.2 694V704.6M964.7 694h13M964.7 704.6h13" stroke="#000" stroke-width="1.7" fill="none"/>
<path d="M1007.7 686.9V726.7M1001.2 686.9h13M1001.2 726.7h13" stroke="#F7941D" stroke-width="1.7" fill="none"/>
<path d="M1044.3 699.2V731.2M1037.8 699.2h13M1037.8 731.2h13" stroke="#E8282B" stroke-width="1.7" fill="none"/>
<path d="M1081.1 683.1V704M1074.6 683.1h13M1074.6 704h13" stroke="#4CAF50" stroke-width="1.7" fill="none"/>
<path d="M1117.6 728.3V758.1M1111.1 728.3h13M1111.1 758.1h13" stroke="#F7941D" stroke-width="1.7" fill="none"/>
<path d="M1154.4 686.9V708.1M1147.9 686.9h13M1147.9 708.1h13" stroke="#E8282B" stroke-width="1.7" fill="none"/>
<circle cx="970.96" cy="680" r="3.7" fill="#000"/>
<circle cx="962.31" cy="689.81" r="3.7" fill="#000"/>
<circle cx="980" cy="695.96" r="3.7" fill="#000"/>
<circle cx="962.31" cy="699.81" r="3.7" fill="#000"/>
<circle cx="970.96" cy="708.46" r="3.7" fill="#000"/>
<circle cx="970.96" cy="721.54" r="3.7" fill="#000"/>
<circle cx="1007.88" cy="648.85" r="3.7" fill="#F7941D"/>
<circle cx="1007.88" cy="683.46" r="3.7" fill="#F7941D"/>
<circle cx="1007.88" cy="702.31" r="3.7" fill="#F7941D"/>
<circle cx="1007.88" cy="744.04" r="3.7" fill="#F7941D"/>
<circle cx="1007.88" cy="754.62" r="3.7" fill="#F7941D"/>
<circle cx="1044.42" cy="651.15" r="3.7" fill="#E8282B"/>
<circle cx="1044.42" cy="685.38" r="3.7" fill="#E8282B"/>
<circle cx="1044.42" cy="722.88" r="3.7" fill="#E8282B"/>
<circle cx="1035.77" cy="735.96" r="3.7" fill="#E8282B"/>
<circle cx="1053.08" cy="740.19" r="3.7" fill="#E8282B"/>
<circle cx="1044.42" cy="755.58" r="3.7" fill="#E8282B"/>
<circle cx="1081.15" cy="647.31" r="3.7" fill="#4CAF50"/>
<circle cx="1076.73" cy="696.92" r="3.7" fill="#4CAF50"/>
<circle cx="1085.38" cy="694.04" r="3.7" fill="#4CAF50"/>
<circle cx="1090.19" cy="695.96" r="3.7" fill="#4CAF50"/>
<circle cx="1081.15" cy="700.77" r="3.7" fill="#4CAF50"/>
<circle cx="1081.15" cy="726.15" r="3.7" fill="#4CAF50"/>
<circle cx="1117.69" cy="689.81" r="3.7" fill="#F7941D"/>
<circle cx="1117.69" cy="721.54" r="3.7" fill="#F7941D"/>
<circle cx="1117.69" cy="735.96" r="3.7" fill="#F7941D"/>
<circle cx="1117.69" cy="749.23" r="3.7" fill="#F7941D"/>
<circle cx="1109.04" cy="781.54" r="3.7" fill="#F7941D"/>
<circle cx="1126.35" cy="780.96" r="3.7" fill="#F7941D"/>
<circle cx="1154.23" cy="658.08" r="3.7" fill="#E8282B"/>
<circle cx="1145.58" cy="684.81" r="3.7" fill="#E8282B"/>
<circle cx="1163.27" cy="689.81" r="3.7" fill="#E8282B"/>
<circle cx="1154.23" cy="706.54" r="3.7" fill="#E8282B"/>
<circle cx="1154.23" cy="716.15" r="3.7" fill="#E8282B"/>
<circle cx="1154.23" cy="730.96" r="3.7" fill="#E8282B"/>
<path d="M938.7 859.4L1178.7 859.4" stroke="#000" stroke-width="1.7"/>
<text x="988.8" y="586" font-size="20.65"><tspan font-style="italic">P</tspan> = 0.0180</text>
<text x="1115.2" y="586" font-size="20.65"><tspan font-style="italic">P</tspan> = 0.0295</text>
<path d="M971.5 601.3V593.3H1117.1V601.3" stroke="#000" stroke-width="1.5" fill="none"/>
<path d="M1120 601.3V593.3H1153.3V601.3" stroke="#000" stroke-width="1.5" fill="none"/>
<text x="970" y="634" font-size="20.65"><tspan font-style="italic">P</tspan> = 0.3681</text>
<path d="M970.6 641.2L1047.9 641.2" stroke="#000" stroke-width="1.7"/>
<text text-anchor="end" x="947.4" y="906" font-size="22.6">MDMA (10µM)</text>
<text text-anchor="middle" x="969.7" y="904.8" font-size="25.5" style="stroke-width:.7px">–</text>
<text text-anchor="middle" x="1006.2" y="904.8" font-size="25.5" style="stroke-width:.7px">+</text>
<text text-anchor="middle" x="1042.8" y="904.8" font-size="25.5" style="stroke-width:.7px">–</text>
<text text-anchor="middle" x="1079.6" y="904.8" font-size="25.5" style="stroke-width:.7px">–</text>
<text text-anchor="middle" x="1116.1" y="904.8" font-size="25.5" style="stroke-width:.7px">+</text>
<text text-anchor="middle" x="1152.9" y="904.8" font-size="25.5" style="stroke-width:.7px">+</text>
<text text-anchor="end" x="947.4" y="938" font-size="22.6">MDL-100907 (20µM)</text>
<text text-anchor="middle" x="969.7" y="936.8" font-size="25.5" style="stroke-width:.7px">–</text>
<text text-anchor="middle" x="1006.2" y="936.8" font-size="25.5" style="stroke-width:.7px">–</text>
<text text-anchor="middle" x="1042.8" y="936.8" font-size="25.5" style="stroke-width:.7px">–</text>
<text text-anchor="middle" x="1079.6" y="936.8" font-size="25.5" style="stroke-width:.7px">+</text>
<text text-anchor="middle" x="1116.1" y="936.8" font-size="25.5" style="stroke-width:.7px">–</text>
<text text-anchor="middle" x="1152.9" y="936.8" font-size="25.5" style="stroke-width:.7px">+</text>
<text text-anchor="end" x="947.4" y="970.6" font-size="22.6">Cort. (200 ng/mL)</text>
<text text-anchor="middle" x="969.7" y="969.4" font-size="25.5" style="stroke-width:.7px">–</text>
<text text-anchor="middle" x="1006.2" y="969.4" font-size="25.5" style="stroke-width:.7px">–</text>
<text text-anchor="middle" x="1042.8" y="969.4" font-size="25.5" style="stroke-width:.7px">+</text>
<text text-anchor="middle" x="1079.6" y="969.4" font-size="25.5" style="stroke-width:.7px">–</text>
<text text-anchor="middle" x="1116.1" y="969.4" font-size="25.5" style="stroke-width:.7px">+</text>
<text text-anchor="middle" x="1152.9" y="969.4" font-size="25.5" style="stroke-width:.7px">+</text>
<text text-anchor="middle" font-style="italic" x="1354.2" y="552.7" font-size="25.8">Cxcr4</text>
<path d="M1242.1 621.65V860" stroke="#000" stroke-width="1.7" fill="none"/>
<path d="M1232.9 860L1472.7 860" stroke="#000" stroke-width="1.7" fill="none"/>
<path d="M1232.5 622.5L1242.1 622.5" stroke="#000" stroke-width="1.7"/>
<text text-anchor="end" x="1226.2" y="630.6" font-size="22.5">2.0</text>
<path d="M1232.5 681.5L1242.1 681.5" stroke="#000" stroke-width="1.7"/>
<text text-anchor="end" x="1226.2" y="689.6" font-size="22.5">1.5</text>
<path d="M1232.5 741.5L1242.1 741.5" stroke="#000" stroke-width="1.7"/>
<text text-anchor="end" x="1226.2" y="749.6" font-size="22.5">1.0</text>
<path d="M1232.5 800.8L1242.1 800.8" stroke="#000" stroke-width="1.7"/>
<text text-anchor="end" x="1226.2" y="808.9" font-size="22.5">0.5</text>
<path d="M1232.5 860L1242.1 860" stroke="#000" stroke-width="1.7"/>
<text text-anchor="end" x="1226.2" y="868.1" font-size="22.5">0.0</text>
<rect x="1254.85" y="740.45" width="22.9" height="119.55" fill="#E3E3E3" stroke="#000" stroke-width="1.7"/>
<rect x="1290.85" y="741.45" width="22.9" height="118.55" fill="#E3E3E3" stroke="#000" stroke-width="1.7"/>
<rect x="1327.35" y="795.85" width="22.9" height="64.15" fill="#E3E3E3" stroke="#000" stroke-width="1.7"/>
<rect x="1364.05" y="763.55" width="22.9" height="96.45" fill="#E3E3E3" stroke="#000" stroke-width="1.7"/>
<rect x="1400.15" y="817.05" width="22.9" height="42.95" fill="#fff" stroke="#F7941D" stroke-width="1.7"/>
<rect x="1436.15" y="790.05" width="22.9" height="69.95" fill="#fff" stroke="#E8282B" stroke-width="1.7"/>
<path d="M1266.3 730.6V748.8M1259.8 730.6h13M1259.8 748.8h13" stroke="#000" stroke-width="1.7" fill="none"/>
<path d="M1302.3 719.4V761M1295.8 719.4h13M1295.8 761h13" stroke="#000" stroke-width="1.7" fill="none"/>
<path d="M1338.8 793.1V797.9M1332.3 793.1h13M1332.3 797.9h13" stroke="#000" stroke-width="1.7" fill="none"/>
<path d="M1375.5 756.5V768.7M1369 756.5h13M1369 768.7h13" stroke="#000" stroke-width="1.7" fill="none"/>
<path d="M1411.6 812.3V819M1405.1 812.3h13M1405.1 819h13" stroke="#000" stroke-width="1.7" fill="none"/>
<path d="M1447.6 786.3V792.1M1441.1 786.3h13M1441.1 792.1h13" stroke="#000" stroke-width="1.7" fill="none"/>
<circle cx="1257.5" cy="720.96" r="3.7" fill="#000"/>
<circle cx="1274.81" cy="716.15" r="3.7" fill="#000"/>
<circle cx="1274.81" cy="725.38" r="3.7" fill="#000"/>
<circle cx="1266.15" cy="747.88" r="3.7" fill="#000"/>
<circle cx="1266.15" cy="755.58" r="3.7" fill="#000"/>
<circle cx="1266.15" cy="772.5" r="3.7" fill="#000"/>
<circle cx="1293.85" cy="691.15" r="3.7" fill="#F7941D"/>
<circle cx="1311.15" cy="686.92" r="3.7" fill="#F7941D"/>
<circle cx="1293.85" cy="769.62" r="3.7" fill="#F7941D"/>
<circle cx="1311.15" cy="774.23" r="3.7" fill="#F7941D"/>
<circle cx="1293.85" cy="781.15" r="3.7" fill="#F7941D"/>
<circle cx="1338.65" cy="783.46" r="3.7" fill="#E8282B"/>
<circle cx="1330" cy="794.04" r="3.7" fill="#E8282B"/>
<circle cx="1347.31" cy="794.04" r="3.7" fill="#E8282B"/>
<circle cx="1330" cy="802.31" r="3.7" fill="#E8282B"/>
<circle cx="1338.65" cy="802.31" r="3.7" fill="#E8282B"/>
<circle cx="1347.31" cy="802.31" r="3.7" fill="#E8282B"/>
<circle cx="1375.58" cy="744.04" r="3.7" fill="#4CAF50"/>
<circle cx="1366.92" cy="754.62" r="3.7" fill="#4CAF50"/>
<circle cx="1383.85" cy="755.19" r="3.7" fill="#4CAF50"/>
<circle cx="1375.58" cy="762.69" r="3.7" fill="#4CAF50"/>
<circle cx="1375.58" cy="773.85" r="3.7" fill="#4CAF50"/>
<circle cx="1375.58" cy="785.96" r="3.7" fill="#4CAF50"/>
<circle cx="1411.35" cy="798.46" r="3.7" fill="#F7941D"/>
<circle cx="1411.35" cy="810.96" r="3.7" fill="#F7941D"/>
<circle cx="1406.92" cy="819.04" r="3.7" fill="#F7941D"/>
<circle cx="1420" cy="818.08" r="3.7" fill="#F7941D"/>
<circle cx="1402.69" cy="825.38" r="3.7" fill="#F7941D"/>
<circle cx="1413.65" cy="823.46" r="3.7" fill="#F7941D"/>
<circle cx="1450.19" cy="775.77" r="3.7" fill="#E8282B"/>
<circle cx="1444.42" cy="781.54" r="3.7" fill="#E8282B"/>
<circle cx="1450.19" cy="791.15" r="3.7" fill="#E8282B"/>
<circle cx="1439.62" cy="796.92" r="3.7" fill="#E8282B"/>
<circle cx="1450.19" cy="796.92" r="3.7" fill="#E8282B"/>
<circle cx="1456.92" cy="792.12" r="3.7" fill="#E8282B"/>
<path d="M1232.9 860L1472.7 860" stroke="#000" stroke-width="1.7"/>
<text x="1286.7" y="586" font-size="20.65"><tspan font-style="italic">P</tspan> = 0.0027</text>
<text x="1410.4" y="586" font-size="20.65"><tspan font-style="italic">P</tspan> = 0.0005</text>
<path d="M1266 601.3V593.3H1411.7V601.3" stroke="#000" stroke-width="1.5" fill="none"/>
<path d="M1414.2 601.3V593.3H1447.3V601.3" stroke="#000" stroke-width="1.5" fill="none"/>
<text x="1264.6" y="667.1" font-size="20.65"><tspan font-style="italic">P</tspan> = 0.0002</text>
<path d="M1265.2 682.4V674.4H1338.3V682.4" stroke="#000" stroke-width="1.5" fill="none"/>
<text x="1329" y="707.5" font-size="20.65"><tspan font-style="italic">P</tspan> = 0.0022</text>
<path d="M1337.7 720.6V712.9H1412.3V720.6" stroke="#000" stroke-width="1.5" fill="none"/>
<text text-anchor="middle" x="1264.8" y="904.8" font-size="25.5" style="stroke-width:.7px">–</text>
<text text-anchor="middle" x="1300.8" y="904.8" font-size="25.5" style="stroke-width:.7px">+</text>
<text text-anchor="middle" x="1337.3" y="904.8" font-size="25.5" style="stroke-width:.7px">–</text>
<text text-anchor="middle" x="1374" y="904.8" font-size="25.5" style="stroke-width:.7px">–</text>
<text text-anchor="middle" x="1410.1" y="904.8" font-size="25.5" style="stroke-width:.7px">+</text>
<text text-anchor="middle" x="1446.1" y="904.8" font-size="25.5" style="stroke-width:.7px">+</text>
<text text-anchor="middle" x="1264.8" y="936.8" font-size="25.5" style="stroke-width:.7px">–</text>
<text text-anchor="middle" x="1300.8" y="936.8" font-size="25.5" style="stroke-width:.7px">–</text>
<text text-anchor="middle" x="1337.3" y="936.8" font-size="25.5" style="stroke-width:.7px">–</text>
<text text-anchor="middle" x="1374" y="936.8" font-size="25.5" style="stroke-width:.7px">+</text>
<text text-anchor="middle" x="1410.1" y="936.8" font-size="25.5" style="stroke-width:.7px">–</text>
<text text-anchor="middle" x="1446.1" y="936.8" font-size="25.5" style="stroke-width:.7px">+</text>
<text text-anchor="middle" x="1264.8" y="969.4" font-size="25.5" style="stroke-width:.7px">–</text>
<text text-anchor="middle" x="1300.8" y="969.4" font-size="25.5" style="stroke-width:.7px">–</text>
<text text-anchor="middle" x="1337.3" y="969.4" font-size="25.5" style="stroke-width:.7px">+</text>
<text text-anchor="middle" x="1374" y="969.4" font-size="25.5" style="stroke-width:.7px">–</text>
<text text-anchor="middle" x="1410.1" y="969.4" font-size="25.5" style="stroke-width:.7px">+</text>
<text text-anchor="middle" x="1446.1" y="969.4" font-size="25.5" style="stroke-width:.7px">+</text>
</g>
<g id="panel_e">
<text font-weight="bold" x="1538.3" y="541.5" font-size="31">e</text>
<text text-anchor="middle" transform="translate(1569.6 734.2) rotate(-90)" font-size="29.8">Relative expression</text>
<text text-anchor="middle" transform="translate(1606.2 739) rotate(-90)" font-size="29.7">(fold)</text>
<text text-anchor="middle" font-style="italic" x="1754.5" y="550.2" font-size="25.8">Il1b</text>
<path d="M1675.6 619.55V859.4" stroke="#000" stroke-width="1.7" fill="none"/>
<path d="M1666.9 859.4L1852.1 861.9" stroke="#000" stroke-width="1.7" fill="none"/>
<path d="M1666 620.4L1675.6 620.4" stroke="#000" stroke-width="1.7"/>
<text text-anchor="end" x="1664.7" y="628.5" font-size="22.5">400</text>
<path d="M1666 680L1675.6 680" stroke="#000" stroke-width="1.7"/>
<text text-anchor="end" x="1664.7" y="688.1" font-size="22.5">300</text>
<path d="M1666 739.8L1675.6 739.8" stroke="#000" stroke-width="1.7"/>
<text text-anchor="end" x="1664.7" y="747.9" font-size="22.5">200</text>
<path d="M1666 799.8L1675.6 799.8" stroke="#000" stroke-width="1.7"/>
<text text-anchor="end" x="1664.7" y="807.9" font-size="22.5">100</text>
<path d="M1666 859.4L1675.6 859.4" stroke="#000" stroke-width="1.7"/>
<text text-anchor="end" x="1664.7" y="867.5" font-size="22.5">0</text>
<rect x="1724.65" y="771.45" width="23.3" height="88.45" fill="#E3E3E3" stroke="#000" stroke-width="1.7"/>
<rect x="1759.85" y="848.75" width="23.3" height="11.15" fill="#E3E3E3" stroke="#000" stroke-width="1.7"/>
<rect x="1793.55" y="815.65" width="23.3" height="44.25" fill="#E3E3E3" stroke="#000" stroke-width="1.7"/>
<path d="M1736.3 748.8V790.8M1730.05 748.8h12.5M1730.05 790.8h12.5" stroke="#000" stroke-width="1.7" fill="none"/>
<path d="M1771.5 842.7V851.7M1765.25 842.7h12.5M1765.25 851.7h12.5" stroke="#000" stroke-width="1.7" fill="none"/>
<path d="M1805.2 803.7V824.8M1798.95 803.7h12.5M1798.95 824.8h12.5" stroke="#000" stroke-width="1.7" fill="none"/>
<circle cx="1691.54" cy="858.85" r="3.5" fill="#000"/>
<circle cx="1695" cy="857.88" r="3.5" fill="#000"/>
<circle cx="1699.23" cy="858.85" r="3.5" fill="#000"/>
<circle cx="1704.04" cy="858.85" r="3.5" fill="#000"/>
<circle cx="1707.88" cy="858.85" r="3.5" fill="#000"/>
<circle cx="1736.35" cy="667.12" r="3.5" fill="#EE2C1C"/>
<circle cx="1736.35" cy="771.54" r="3.5" fill="#EE2C1C"/>
<circle cx="1745" cy="785.77" r="3.5" fill="#EE2C1C"/>
<circle cx="1727.5" cy="793.08" r="3.5" fill="#EE2C1C"/>
<circle cx="1745" cy="795.96" r="3.5" fill="#EE2C1C"/>
<circle cx="1736.35" cy="806.54" r="3.5" fill="#EE2C1C"/>
<circle cx="1771.35" cy="826.73" r="3.5" fill="#8E259B"/>
<circle cx="1762.69" cy="845.96" r="3.5" fill="#8E259B"/>
<circle cx="1774.23" cy="844.04" r="3.5" fill="#8E259B"/>
<circle cx="1762.69" cy="855.58" r="3.5" fill="#8E259B"/>
<circle cx="1774.23" cy="855.58" r="3.5" fill="#8E259B"/>
<circle cx="1780" cy="854.62" r="3.5" fill="#8E259B"/>
<circle cx="1805" cy="763.85" r="3.5" fill="#8E259B"/>
<circle cx="1798.27" cy="817.69" r="3.5" fill="#8E259B"/>
<circle cx="1803.08" cy="818.65" r="3.5" fill="#8E259B"/>
<circle cx="1807.88" cy="822.88" r="3.5" fill="#8E259B"/>
<circle cx="1801.15" cy="827.69" r="3.5" fill="#8E259B"/>
<circle cx="1798.85" cy="833.46" r="3.5" fill="#8E259B"/>
<path d="M1666.9 859.4L1852.1 861.9" stroke="#000" stroke-width="1.7"/>
<text x="1664" y="606" font-size="20.65"><tspan font-style="italic">P</tspan> = 0.0018</text>
<path d="M1699.8 846.9V623.8H1731V657.5" stroke="#000" stroke-width="1.6" fill="none"/>
<text x="1742.5" y="633.5" font-size="20.65"><tspan font-style="italic">P</tspan> = 0.0411</text>
<path d="M1736.7 657.5V640.8H1805V672.9" stroke="#000" stroke-width="1.6" fill="none"/>
<text text-anchor="end" x="1683.3" y="902.7" font-size="21.8">Psilocybin (10 µM)</text>
<text text-anchor="middle" x="1699.1" y="903.4" font-size="24.5" style="stroke-width:.7px">–</text>
<text text-anchor="middle" x="1733.5" y="903.4" font-size="24.5" style="stroke-width:.7px">–</text>
<text text-anchor="middle" x="1768.5" y="903.4" font-size="24.5" style="stroke-width:.7px">+</text>
<text text-anchor="middle" x="1803.5" y="903.4" font-size="24.5" style="stroke-width:.7px">+</text>
<text text-anchor="end" x="1683.3" y="935" font-size="21.8">LPS (10 ng/mL)</text>
<text text-anchor="middle" x="1699.1" y="935.7" font-size="24.5" style="stroke-width:.7px">–</text>
<text text-anchor="middle" x="1733.5" y="935.7" font-size="24.5" style="stroke-width:.7px">+</text>
<text text-anchor="middle" x="1768.5" y="935.7" font-size="24.5" style="stroke-width:.7px">–</text>
<text text-anchor="middle" x="1803.5" y="935.7" font-size="24.5" style="stroke-width:.7px">+</text>
<text text-anchor="middle" font-style="italic" x="2077.4" y="550.2" font-size="25.8">Il1b</text>
<path d="M1986.2 622.05V860.4" stroke="#000" stroke-width="1.7" fill="none"/>
<path d="M1976 860.4L2170 860.4" stroke="#000" stroke-width="1.7" fill="none"/>
<path d="M1975.7 622.9L1986.2 622.9" stroke="#000" stroke-width="1.7"/>
<text text-anchor="end" x="1974.2" y="631.5" font-size="22.5">50</text>
<path d="M1975.7 670.4L1986.2 670.4" stroke="#000" stroke-width="1.7"/>
<text text-anchor="end" x="1974.2" y="679" font-size="22.5">40</text>
<path d="M1975.7 717.7L1986.2 717.7" stroke="#000" stroke-width="1.7"/>
<text text-anchor="end" x="1974.2" y="726.3" font-size="22.5">30</text>
<path d="M1975.7 765.2L1986.2 765.2" stroke="#000" stroke-width="1.7"/>
<text text-anchor="end" x="1974.2" y="773.8" font-size="22.5">20</text>
<path d="M1975.7 812.9L1986.2 812.9" stroke="#000" stroke-width="1.7"/>
<text text-anchor="end" x="1974.2" y="821.5" font-size="22.5">10</text>
<path d="M1975.7 860.4L1986.2 860.4" stroke="#000" stroke-width="1.7"/>
<text text-anchor="end" x="1974.2" y="869" font-size="22.5">0</text>
<rect x="2042.6" y="647.15" width="25.4" height="213.25" fill="#E3E3E3" stroke="#000" stroke-width="1.7"/>
<rect x="2125.5" y="690.45" width="25.4" height="169.95" fill="#E3E3E3" stroke="#000" stroke-width="1.7"/>
<path d="M2055.3 646.3V650.4M2048.8 646.3h13M2048.8 650.4h13" stroke="#000" stroke-width="1.7" fill="none"/>
<path d="M2138.2 667.1V711.9M2131.7 667.1h13M2131.7 711.9h13" stroke="#000" stroke-width="1.7" fill="none"/>
<circle cx="2002.88" cy="856.54" r="3.8" fill="#000"/>
<circle cx="2007.31" cy="854.62" r="3.8" fill="#000"/>
<circle cx="2011.54" cy="856.15" r="3.8" fill="#000"/>
<circle cx="2015.77" cy="854.62" r="3.8" fill="#000"/>
<circle cx="2020.19" cy="856.15" r="3.8" fill="#000"/>
<circle cx="2024.04" cy="855.58" r="3.8" fill="#000"/>
<circle cx="2044.62" cy="636.73" r="3.8" fill="#EE2C1C"/>
<circle cx="2050" cy="643.08" r="3.8" fill="#EE2C1C"/>
<circle cx="2055.19" cy="641.15" r="3.8" fill="#EE2C1C"/>
<circle cx="2060.58" cy="643.08" r="3.8" fill="#EE2C1C"/>
<circle cx="2065.38" cy="643.08" r="3.8" fill="#EE2C1C"/>
<circle cx="2055.19" cy="666.15" r="3.8" fill="#EE2C1C"/>
<circle cx="2086.15" cy="857.5" r="3.8" fill="#F7941D"/>
<circle cx="2091.35" cy="851.73" r="3.8" fill="#F7941D"/>
<circle cx="2096.73" cy="856.15" r="3.8" fill="#F7941D"/>
<circle cx="2101.54" cy="855" r="3.8" fill="#F7941D"/>
<circle cx="2106.73" cy="858.08" r="3.8" fill="#F7941D"/>
<circle cx="2137.88" cy="641.15" r="3.8" fill="#F7941D"/>
<circle cx="2137.88" cy="656.54" r="3.8" fill="#F7941D"/>
<circle cx="2127.5" cy="668.46" r="3.8" fill="#F7941D"/>
<circle cx="2148.08" cy="666.54" r="3.8" fill="#F7941D"/>
<circle cx="2137.88" cy="715.19" r="3.8" fill="#F7941D"/>
<circle cx="2137.88" cy="788.65" r="3.8" fill="#F7941D"/>
<path d="M1976 860.4L2170 860.4" stroke="#000" stroke-width="1.7"/>
<text x="2049" y="576.7" font-size="20.65"><tspan font-style="italic">P</tspan> = 0.0433</text>
<path d="M2059.2 590.8V582.5H2139.4V590.8" stroke="#000" stroke-width="1.5" fill="none"/>
<text x="1953.2" y="608.5" font-size="20.2"><tspan font-style="italic">P</tspan> &lt; 0.0001</text>
<text x="2061" y="608.5" font-size="20.2"><tspan font-style="italic">P</tspan> &lt; 0.0001</text>
<path d="M2009.2 837.3V621.3H2051V631" stroke="#000" stroke-width="1.6" fill="none"/>
<path d="M2058.3 631V621.3H2099.4V837.3" stroke="#000" stroke-width="1.6" fill="none"/>
<text text-anchor="end" x="1990.1" y="902.7" font-size="21.8">MDMA (10 µM)</text>
<text text-anchor="middle" x="2007.6" y="903.4" font-size="24.5" style="stroke-width:.7px">–</text>
<text text-anchor="middle" x="2050.3" y="903.4" font-size="24.5" style="stroke-width:.7px">–</text>
<text text-anchor="middle" x="2093.6" y="903.4" font-size="24.5" style="stroke-width:.7px">+</text>
<text text-anchor="middle" x="2137" y="903.4" font-size="24.5" style="stroke-width:.7px">+</text>
<text text-anchor="end" x="1990.1" y="935" font-size="21.8">LPS (10 ng/mL)</text>
<text text-anchor="middle" x="2007.6" y="935.7" font-size="24.5" style="stroke-width:.7px">–</text>
<text text-anchor="middle" x="2050.3" y="935.7" font-size="24.5" style="stroke-width:.7px">+</text>
<text text-anchor="middle" x="2093.6" y="935.7" font-size="24.5" style="stroke-width:.7px">–</text>
<text text-anchor="middle" x="2137" y="935.7" font-size="24.5" style="stroke-width:.7px">+</text>
</g>
<g id="panel_f">
<text font-weight="bold" x="83.8" y="1039.8" font-size="31">f</text>
<text x="192.3" y="1055.8" font-size="28.1">Fear acquisition</text>
<text text-anchor="middle" transform="translate(113.8 1228) rotate(-90)" font-size="30.3">Time spent freezing (%)</text>
<rect x="191.23" y="1269.04" width="7.6" height="117.36" fill="#D3D3D3" stroke="#000" stroke-width="1.5"/>
<rect x="204.78" y="1315.19" width="7.6" height="71.21" fill="#D3D3D3" stroke="#000" stroke-width="1.5"/>
<rect x="218.79" y="1308.65" width="7.6" height="77.75" fill="#D3D3D3" stroke="#000" stroke-width="1.5"/>
<rect x="232.52" y="1347.51" width="7.6" height="38.89" fill="#D3D3D3" stroke="#000" stroke-width="1.5"/>
<rect x="255.22" y="1228.32" width="7.6" height="158.08" fill="#D3D3D3" stroke="#000" stroke-width="1.5"/>
<rect x="268.85" y="1227.95" width="7.6" height="158.45" fill="#D3D3D3" stroke="#000" stroke-width="1.5"/>
<rect x="282.68" y="1225.14" width="7.6" height="161.26" fill="#D3D3D3" stroke="#000" stroke-width="1.5"/>
<rect x="296.31" y="1238.78" width="7.6" height="147.62" fill="#D3D3D3" stroke="#000" stroke-width="1.5"/>
<rect x="319.1" y="1195.25" width="7.6" height="191.15" fill="#D3D3D3" stroke="#000" stroke-width="1.5"/>
<rect x="332.74" y="1204.97" width="7.6" height="181.43" fill="#D3D3D3" stroke="#000" stroke-width="1.5"/>
<rect x="346.66" y="1156.58" width="7.6" height="229.82" fill="#D3D3D3" stroke="#000" stroke-width="1.5"/>
<rect x="360.39" y="1235.42" width="7.6" height="150.98" fill="#D3D3D3" stroke="#000" stroke-width="1.5"/>
<rect x="383.27" y="1183.67" width="7.6" height="202.73" fill="#D3D3D3" stroke="#000" stroke-width="1.5"/>
<rect x="397.01" y="1155.46" width="7.6" height="230.94" fill="#D3D3D3" stroke="#000" stroke-width="1.5"/>
<rect x="410.55" y="1136.41" width="7.6" height="249.99" fill="#D3D3D3" stroke="#000" stroke-width="1.5"/>
<rect x="424.28" y="1153.6" width="7.6" height="232.8" fill="#D3D3D3" stroke="#000" stroke-width="1.5"/>
<rect x="447.54" y="1151.35" width="7.6" height="235.05" fill="#D3D3D3" stroke="#000" stroke-width="1.5"/>
<rect x="460.99" y="1123.89" width="7.6" height="262.51" fill="#D3D3D3" stroke="#000" stroke-width="1.5"/>
<rect x="474.81" y="1116.42" width="7.6" height="269.98" fill="#D3D3D3" stroke="#000" stroke-width="1.5"/>
<rect x="488.26" y="1169.47" width="7.6" height="216.93" fill="#D3D3D3" stroke="#000" stroke-width="1.5"/>
<path d="M195.03 1236.54V1298.74M192.33 1236.54h5.4M192.33 1298.74h5.4" stroke="#000" stroke-width="1.3" fill="none"/>
<path d="M208.58 1301.36V1327.51M205.88 1301.36h5.4M205.88 1327.51h5.4" stroke="#000" stroke-width="1.3" fill="none"/>
<path d="M222.59 1283.61V1331.81M219.89 1283.61h5.4M219.89 1331.81h5.4" stroke="#000" stroke-width="1.3" fill="none"/>
<path d="M236.32 1337.79V1355.72M233.62 1337.79h5.4M233.62 1355.72h5.4" stroke="#000" stroke-width="1.3" fill="none"/>
<path d="M259.02 1211.69V1242.7M256.32 1211.69h5.4M256.32 1242.7h5.4" stroke="#000" stroke-width="1.3" fill="none"/>
<path d="M272.65 1211.32V1242.7M269.95 1211.32h5.4M269.95 1242.7h5.4" stroke="#000" stroke-width="1.3" fill="none"/>
<path d="M286.48 1205.71V1242.7M283.78 1205.71h5.4M283.78 1242.7h5.4" stroke="#000" stroke-width="1.3" fill="none"/>
<path d="M300.11 1220.66V1255.22M297.41 1220.66h5.4M297.41 1255.22h5.4" stroke="#000" stroke-width="1.3" fill="none"/>
<path d="M322.9 1165.55V1223.09M320.2 1165.55h5.4M320.2 1223.09h5.4" stroke="#000" stroke-width="1.3" fill="none"/>
<path d="M336.54 1186.66V1221.59M333.84 1186.66h5.4M333.84 1221.59h5.4" stroke="#000" stroke-width="1.3" fill="none"/>
<path d="M350.46 1142.57V1168.35M347.76 1142.57h5.4M347.76 1168.35h5.4" stroke="#000" stroke-width="1.3" fill="none"/>
<path d="M364.19 1216.92V1252.42M361.49 1216.92h5.4M361.49 1252.42h5.4" stroke="#000" stroke-width="1.3" fill="none"/>
<path d="M387.07 1151.54V1213.19M384.37 1151.54h5.4M384.37 1213.19h5.4" stroke="#000" stroke-width="1.3" fill="none"/>
<path d="M400.81 1145.93V1163.31M398.11 1145.93h5.4M398.11 1163.31h5.4" stroke="#000" stroke-width="1.3" fill="none"/>
<path d="M414.35 1129.12V1142.2M411.65 1129.12h5.4M411.65 1142.2h5.4" stroke="#000" stroke-width="1.3" fill="none"/>
<path d="M428.08 1146.31V1166.48M425.38 1146.31h5.4M425.38 1166.48h5.4" stroke="#000" stroke-width="1.3" fill="none"/>
<path d="M451.34 1133.23V1167.79M448.64 1133.23h5.4M448.64 1167.79h5.4" stroke="#000" stroke-width="1.3" fill="none"/>
<path d="M464.79 1112.68V1133.42M462.09 1112.68h5.4M462.09 1133.42h5.4" stroke="#000" stroke-width="1.3" fill="none"/>
<path d="M478.61 1111.37V1119.78M475.91 1111.37h5.4M475.91 1119.78h5.4" stroke="#000" stroke-width="1.3" fill="none"/>
<path d="M492.06 1162.75V1174.52M489.36 1162.75h5.4M489.36 1174.52h5.4" stroke="#000" stroke-width="1.3" fill="none"/>
<circle cx="195.03" cy="1186.47" r="3.55" fill="#000"/>
<circle cx="195.03" cy="1207.02" r="3.55" fill="#000"/>
<circle cx="195.03" cy="1287.54" r="3.55" fill="#000"/>
<circle cx="195.03" cy="1319.67" r="3.55" fill="#000"/>
<circle cx="195.03" cy="1340.22" r="3.55" fill="#000"/>
<circle cx="208.58" cy="1224.77" r="3.55" fill="#F0474D"/>
<circle cx="208.58" cy="1282.31" r="3.55" fill="#F0474D"/>
<circle cx="208.58" cy="1289.78" r="3.55" fill="#F0474D"/>
<circle cx="208.58" cy="1313.13" r="3.55" fill="#F0474D"/>
<circle cx="206.8" cy="1321.54" r="3.55" fill="#F0474D"/>
<circle cx="210.16" cy="1320.6" r="3.55" fill="#F0474D"/>
<circle cx="208.58" cy="1334.99" r="3.55" fill="#F0474D"/>
<circle cx="206.99" cy="1343.95" r="3.55" fill="#F0474D"/>
<circle cx="209.79" cy="1349.18" r="3.55" fill="#F0474D"/>
<circle cx="208.58" cy="1360.77" r="3.55" fill="#F0474D"/>
<circle cx="222.59" cy="1218.23" r="3.55" fill="#A61DE2"/>
<circle cx="222.59" cy="1305.1" r="3.55" fill="#A61DE2"/>
<circle cx="222.59" cy="1332.37" r="3.55" fill="#A61DE2"/>
<circle cx="220.81" cy="1339.28" r="3.55" fill="#A61DE2"/>
<circle cx="223.8" cy="1338.72" r="3.55" fill="#A61DE2"/>
<circle cx="236.32" cy="1323.4" r="3.55" fill="#F7880F"/>
<circle cx="236.32" cy="1347.32" r="3.55" fill="#F7880F"/>
<circle cx="234.45" cy="1357.4" r="3.55" fill="#F7880F"/>
<circle cx="237.81" cy="1357.4" r="3.55" fill="#F7880F"/>
<circle cx="259.02" cy="1182.73" r="3.55" fill="#000"/>
<circle cx="259.02" cy="1218.42" r="3.55" fill="#000"/>
<circle cx="259.02" cy="1224.77" r="3.55" fill="#000"/>
<circle cx="259.02" cy="1232.24" r="3.55" fill="#000"/>
<circle cx="259.02" cy="1278.2" r="3.55" fill="#000"/>
<circle cx="272.65" cy="1152.47" r="3.55" fill="#F0474D"/>
<circle cx="272.65" cy="1177.69" r="3.55" fill="#F0474D"/>
<circle cx="272.65" cy="1194.13" r="3.55" fill="#F0474D"/>
<circle cx="272.65" cy="1206.09" r="3.55" fill="#F0474D"/>
<circle cx="272.65" cy="1218.42" r="3.55" fill="#F0474D"/>
<circle cx="270.88" cy="1233.73" r="3.55" fill="#F0474D"/>
<circle cx="274.24" cy="1237.47" r="3.55" fill="#F0474D"/>
<circle cx="272.56" cy="1240.83" r="3.55" fill="#F0474D"/>
<circle cx="271.44" cy="1244.57" r="3.55" fill="#F0474D"/>
<circle cx="270.88" cy="1302.85" r="3.55" fill="#F0474D"/>
<circle cx="274.05" cy="1302.85" r="3.55" fill="#F0474D"/>
<circle cx="286.48" cy="1184.6" r="3.55" fill="#A61DE2"/>
<circle cx="286.48" cy="1192.64" r="3.55" fill="#A61DE2"/>
<circle cx="286.48" cy="1218.42" r="3.55" fill="#A61DE2"/>
<circle cx="286.48" cy="1241.21" r="3.55" fill="#A61DE2"/>
<circle cx="286.48" cy="1282.31" r="3.55" fill="#A61DE2"/>
<circle cx="300.11" cy="1196.93" r="3.55" fill="#F7880F"/>
<circle cx="300.11" cy="1226.82" r="3.55" fill="#F7880F"/>
<circle cx="300.11" cy="1253.91" r="3.55" fill="#F7880F"/>
<circle cx="300.11" cy="1273.9" r="3.55" fill="#F7880F"/>
<circle cx="322.9" cy="1104.83" r="3.55" fill="#000"/>
<circle cx="322.9" cy="1172.09" r="3.55" fill="#000"/>
<circle cx="322.9" cy="1182.92" r="3.55" fill="#000"/>
<circle cx="322.9" cy="1246.44" r="3.55" fill="#000"/>
<circle cx="322.9" cy="1265.49" r="3.55" fill="#000"/>
<circle cx="336.54" cy="1125.76" r="3.55" fill="#F0474D"/>
<circle cx="336.54" cy="1146.87" r="3.55" fill="#F0474D"/>
<circle cx="336.54" cy="1164.61" r="3.55" fill="#F0474D"/>
<circle cx="334.95" cy="1179.56" r="3.55" fill="#F0474D"/>
<circle cx="337.76" cy="1181.8" r="3.55" fill="#F0474D"/>
<circle cx="336.54" cy="1205.71" r="3.55" fill="#F0474D"/>
<circle cx="336.54" cy="1215.05" r="3.55" fill="#F0474D"/>
<circle cx="334.95" cy="1263.62" r="3.55" fill="#F0474D"/>
<circle cx="337.76" cy="1269.23" r="3.55" fill="#F0474D"/>
<circle cx="336.54" cy="1288.28" r="3.55" fill="#F0474D"/>
<circle cx="350.46" cy="1120.34" r="3.55" fill="#A61DE2"/>
<circle cx="350.46" cy="1131.36" r="3.55" fill="#A61DE2"/>
<circle cx="350.46" cy="1161.81" r="3.55" fill="#A61DE2"/>
<circle cx="350.46" cy="1178.63" r="3.55" fill="#A61DE2"/>
<circle cx="350.46" cy="1185.16" r="3.55" fill="#A61DE2"/>
<circle cx="364.19" cy="1183.67" r="3.55" fill="#F7880F"/>
<circle cx="364.1" cy="1246.81" r="3.55" fill="#F7880F"/>
<circle cx="365.4" cy="1250.92" r="3.55" fill="#F7880F"/>
<circle cx="362.79" cy="1255.22" r="3.55" fill="#F7880F"/>
<circle cx="387.07" cy="1103.53" r="3.55" fill="#000"/>
<circle cx="387.07" cy="1130.99" r="3.55" fill="#000"/>
<circle cx="387.07" cy="1185.54" r="3.55" fill="#000"/>
<circle cx="387.07" cy="1223.09" r="3.55" fill="#000"/>
<circle cx="387.07" cy="1271.1" r="3.55" fill="#000"/>
<circle cx="400.81" cy="1110.07" r="3.55" fill="#F0474D"/>
<circle cx="400.81" cy="1131.36" r="3.55" fill="#F0474D"/>
<circle cx="400.81" cy="1141.26" r="3.55" fill="#F0474D"/>
<circle cx="400.81" cy="1147.8" r="3.55" fill="#F0474D"/>
<circle cx="399.4" cy="1151.91" r="3.55" fill="#F0474D"/>
<circle cx="402.21" cy="1152.28" r="3.55" fill="#F0474D"/>
<circle cx="400.81" cy="1159.01" r="3.55" fill="#F0474D"/>
<circle cx="400.81" cy="1164.61" r="3.55" fill="#F0474D"/>
<circle cx="400.81" cy="1176.76" r="3.55" fill="#F0474D"/>
<circle cx="400.81" cy="1207.58" r="3.55" fill="#F0474D"/>
<circle cx="414.35" cy="1118.29" r="3.55" fill="#A61DE2"/>
<circle cx="415.66" cy="1130.05" r="3.55" fill="#A61DE2"/>
<circle cx="412.85" cy="1131.92" r="3.55" fill="#A61DE2"/>
<circle cx="414.35" cy="1140.33" r="3.55" fill="#A61DE2"/>
<circle cx="414.35" cy="1157.52" r="3.55" fill="#A61DE2"/>
<circle cx="429.67" cy="1136.22" r="3.55" fill="#F7880F"/>
<circle cx="426.49" cy="1136.97" r="3.55" fill="#F7880F"/>
<circle cx="428.08" cy="1142.57" r="3.55" fill="#F7880F"/>
<circle cx="428.08" cy="1193.2" r="3.55" fill="#F7880F"/>
<circle cx="449.66" cy="1114.55" r="3.55" fill="#000"/>
<circle cx="452.46" cy="1118.85" r="3.55" fill="#000"/>
<circle cx="451.34" cy="1141.26" r="3.55" fill="#000"/>
<circle cx="451.34" cy="1173.95" r="3.55" fill="#000"/>
<circle cx="451.34" cy="1203.28" r="3.55" fill="#000"/>
<circle cx="464.79" cy="1077.37" r="3.55" fill="#F0474D"/>
<circle cx="466.1" cy="1089.89" r="3.55" fill="#F0474D"/>
<circle cx="463.29" cy="1092.69" r="3.55" fill="#F0474D"/>
<circle cx="463.29" cy="1116.98" r="3.55" fill="#F0474D"/>
<circle cx="466.28" cy="1116.98" r="3.55" fill="#F0474D"/>
<circle cx="464.79" cy="1130.05" r="3.55" fill="#F0474D"/>
<circle cx="466.1" cy="1132.86" r="3.55" fill="#F0474D"/>
<circle cx="463.29" cy="1134.72" r="3.55" fill="#F0474D"/>
<circle cx="464.79" cy="1154.9" r="3.55" fill="#F0474D"/>
<circle cx="464.79" cy="1181.05" r="3.55" fill="#F0474D"/>
<circle cx="478.61" cy="1098.86" r="3.55" fill="#A61DE2"/>
<circle cx="480.11" cy="1104.83" r="3.55" fill="#A61DE2"/>
<circle cx="477.3" cy="1110.07" r="3.55" fill="#A61DE2"/>
<circle cx="478.61" cy="1120.71" r="3.55" fill="#A61DE2"/>
<circle cx="478.61" cy="1143.5" r="3.55" fill="#A61DE2"/>
<circle cx="493.56" cy="1157.7" r="3.55" fill="#F7880F"/>
<circle cx="490.75" cy="1158.64" r="3.55" fill="#F7880F"/>
<circle cx="493.56" cy="1177.32" r="3.55" fill="#F7880F"/>
<circle cx="490.75" cy="1179.19" r="3.55" fill="#F7880F"/>
<path d="M185.7 1069.8V1386.4" stroke="#000" stroke-width="2.1" fill="none"/>
<path d="M173.5 1386.4H501.7" stroke="#000" stroke-width="2.1" fill="none"/>
<path d="M173.7 1070.8L185.7 1070.8" stroke="#000" stroke-width="2"/>
<text text-anchor="end" x="169.6" y="1079.5" font-size="22.8">100</text>
<path d="M173.7 1133.92L185.7 1133.92" stroke="#000" stroke-width="2"/>
<text text-anchor="end" x="169.6" y="1142.88" font-size="22.8">80</text>
<path d="M173.7 1197.04L185.7 1197.04" stroke="#000" stroke-width="2"/>
<text text-anchor="end" x="169.6" y="1206.26" font-size="22.8">60</text>
<path d="M173.7 1260.16L185.7 1260.16" stroke="#000" stroke-width="2"/>
<text text-anchor="end" x="169.6" y="1269.64" font-size="22.8">40</text>
<path d="M173.7 1323.28L185.7 1323.28" stroke="#000" stroke-width="2"/>
<text text-anchor="end" x="169.6" y="1333.02" font-size="22.8">20</text>
<text text-anchor="end" x="169.6" y="1396.4" font-size="22.8">0</text>
<path d="M215 1386.4L215 1398.4" stroke="#000" stroke-width="2"/>
<text text-anchor="middle" x="212.5" y="1427.6" font-size="26.3">T1</text>
<path d="M279.5 1386.4L279.5 1398.4" stroke="#000" stroke-width="2"/>
<text text-anchor="middle" x="278.5" y="1427.6" font-size="26.3">T2</text>
<path d="M343.4 1386.4L343.4 1398.4" stroke="#000" stroke-width="2"/>
<text text-anchor="middle" x="341.9" y="1427.6" font-size="26.3">T3</text>
<path d="M407.1 1386.4L407.1 1398.4" stroke="#000" stroke-width="2"/>
<text text-anchor="middle" x="405.4" y="1427.6" font-size="26.3">T4</text>
<path d="M471 1386.4L471 1398.4" stroke="#000" stroke-width="2"/>
<text text-anchor="middle" x="471.1" y="1427.6" font-size="26.3">T5</text>
<text text-anchor="middle" x="340.2" y="1462" font-size="29.8">Trial</text>
<text x="509" y="1071" font-size="25.7"><tspan font-style="italic">P</tspan> = 0.2751</text>
<path d="M600 1087.3H585.2V1188.7H600" stroke="#000" stroke-width="2.3" fill="none"/>
<circle cx="617.1" cy="1087.9" r="6.1" fill="#000"/>
<text x="632.6" y="1098.2" font-size="29.55">Control</text>
<circle cx="617.1" cy="1119.2" r="6.1" fill="#F5141E"/>
<text x="632.6" y="1129.6" font-size="29.55">Vehicle</text>
<circle cx="617.1" cy="1152.9" r="6.1" fill="#8B0C8B"/>
<text x="632.6" y="1162.1" font-size="29.55">Psilocybin (1 mg/kg)</text>
<circle cx="617.1" cy="1186.9" r="6.1" fill="#F7861C"/>
<text x="632.6" y="1196.1" font-size="29.55">MDMA (10 mg/kg)</text>
<path d="M906.8 1111.8L906.8 1198.7" stroke="#000" stroke-width="3"/>
<text x="912.5" y="1162.4" font-size="31.7">18-d stress</text>
</g>
<g id="panel_g">
<text font-weight="bold" x="1164.3" y="1039.8" font-size="31">g</text>
<text x="1269.5" y="1055.8" font-size="28.1">Fear behavior</text>
<text text-anchor="middle" transform="translate(1194 1228) rotate(-90)" font-size="30.3">Time spent freezing (%)</text>
<rect x="1270.21" y="1271.29" width="7.6" height="113.71" fill="#D3D3D3" stroke="#000" stroke-width="1.5"/>
<rect x="1283.84" y="1223.84" width="7.6" height="161.16" fill="#D3D3D3" stroke="#000" stroke-width="1.5"/>
<rect x="1297.57" y="1255.59" width="7.6" height="129.41" fill="#D3D3D3" stroke="#000" stroke-width="1.5"/>
<rect x="1311.12" y="1347.13" width="7.6" height="37.87" fill="#D3D3D3" stroke="#000" stroke-width="1.5"/>
<rect x="1333.91" y="1216.92" width="7.6" height="168.08" fill="#D3D3D3" stroke="#000" stroke-width="1.5"/>
<rect x="1347.45" y="1155.09" width="7.6" height="229.91" fill="#D3D3D3" stroke="#000" stroke-width="1.5"/>
<rect x="1360.9" y="1200.48" width="7.6" height="184.52" fill="#D3D3D3" stroke="#000" stroke-width="1.5"/>
<rect x="1374.54" y="1289.03" width="7.6" height="95.97" fill="#D3D3D3" stroke="#000" stroke-width="1.5"/>
<rect x="1397.24" y="1197.31" width="7.6" height="187.69" fill="#D3D3D3" stroke="#000" stroke-width="1.5"/>
<rect x="1410.87" y="1133.98" width="7.6" height="251.02" fill="#D3D3D3" stroke="#000" stroke-width="1.5"/>
<rect x="1424.51" y="1188.9" width="7.6" height="196.1" fill="#D3D3D3" stroke="#000" stroke-width="1.5"/>
<rect x="1438.43" y="1204.03" width="7.6" height="180.97" fill="#D3D3D3" stroke="#000" stroke-width="1.5"/>
<rect x="1460.85" y="1193.95" width="7.6" height="191.05" fill="#D3D3D3" stroke="#000" stroke-width="1.5"/>
<rect x="1474.48" y="1128.19" width="7.6" height="256.81" fill="#D3D3D3" stroke="#000" stroke-width="1.5"/>
<rect x="1487.93" y="1148.18" width="7.6" height="236.82" fill="#D3D3D3" stroke="#000" stroke-width="1.5"/>
<rect x="1501.48" y="1243.26" width="7.6" height="141.74" fill="#D3D3D3" stroke="#000" stroke-width="1.5"/>
<rect x="1524.27" y="1193.01" width="7.6" height="191.99" fill="#D3D3D3" stroke="#000" stroke-width="1.5"/>
<rect x="1538" y="1119.22" width="7.6" height="265.78" fill="#D3D3D3" stroke="#000" stroke-width="1.5"/>
<rect x="1551.54" y="1168.17" width="7.6" height="216.83" fill="#D3D3D3" stroke="#000" stroke-width="1.5"/>
<rect x="1565.18" y="1160.32" width="7.6" height="224.68" fill="#D3D3D3" stroke="#000" stroke-width="1.5"/>
<path d="M1274.01 1254.28V1287.91M1271.31 1254.28h5.4M1271.31 1287.91h5.4" stroke="#000" stroke-width="1.3" fill="none"/>
<path d="M1287.64 1201.98V1244.01M1284.94 1201.98h5.4M1284.94 1244.01h5.4" stroke="#000" stroke-width="1.3" fill="none"/>
<path d="M1301.37 1244.57V1265.12M1298.67 1244.57h5.4M1298.67 1265.12h5.4" stroke="#000" stroke-width="1.3" fill="none"/>
<path d="M1314.92 1329.38V1363.38M1312.22 1329.38h5.4M1312.22 1363.38h5.4" stroke="#000" stroke-width="1.3" fill="none"/>
<path d="M1337.71 1194.13V1236.54M1335.01 1194.13h5.4M1335.01 1236.54h5.4" stroke="#000" stroke-width="1.3" fill="none"/>
<path d="M1351.25 1140.33V1168.35M1348.55 1140.33h5.4M1348.55 1168.35h5.4" stroke="#000" stroke-width="1.3" fill="none"/>
<path d="M1364.7 1194.5V1213.56M1362 1194.5h5.4M1362 1213.56h5.4" stroke="#000" stroke-width="1.3" fill="none"/>
<path d="M1378.34 1245.88V1329.94M1375.64 1245.88h5.4M1375.64 1329.94h5.4" stroke="#000" stroke-width="1.3" fill="none"/>
<path d="M1401.04 1162.75V1229.44M1398.34 1162.75h5.4M1398.34 1229.44h5.4" stroke="#000" stroke-width="1.3" fill="none"/>
<path d="M1414.67 1123.52V1142.76M1411.97 1123.52h5.4M1411.97 1142.76h5.4" stroke="#000" stroke-width="1.3" fill="none"/>
<path d="M1428.31 1175.45V1201.04M1425.61 1175.45h5.4M1425.61 1201.04h5.4" stroke="#000" stroke-width="1.3" fill="none"/>
<path d="M1442.23 1160.32V1245.88M1439.53 1160.32h5.4M1439.53 1245.88h5.4" stroke="#000" stroke-width="1.3" fill="none"/>
<path d="M1464.65 1157.7V1228.13M1461.95 1157.7h5.4M1461.95 1228.13h5.4" stroke="#000" stroke-width="1.3" fill="none"/>
<path d="M1478.28 1113.24V1140.33M1475.58 1113.24h5.4M1475.58 1140.33h5.4" stroke="#000" stroke-width="1.3" fill="none"/>
<path d="M1491.73 1130.61V1163.12M1489.03 1130.61h5.4M1489.03 1163.12h5.4" stroke="#000" stroke-width="1.3" fill="none"/>
<path d="M1505.28 1194.5V1289.4M1502.58 1194.5h5.4M1502.58 1289.4h5.4" stroke="#000" stroke-width="1.3" fill="none"/>
<path d="M1528.07 1149.67V1234.86M1525.37 1149.67h5.4M1525.37 1234.86h5.4" stroke="#000" stroke-width="1.3" fill="none"/>
<path d="M1541.8 1110.44V1127.25M1539.1 1110.44h5.4M1539.1 1127.25h5.4" stroke="#000" stroke-width="1.3" fill="none"/>
<path d="M1555.34 1131.18V1202.91M1552.64 1131.18h5.4M1552.64 1202.91h5.4" stroke="#000" stroke-width="1.3" fill="none"/>
<path d="M1568.98 1114.18V1206.09M1566.28 1114.18h5.4M1566.28 1206.09h5.4" stroke="#000" stroke-width="1.3" fill="none"/>
<circle cx="1274.01" cy="1215.99" r="3.55" fill="#000"/>
<circle cx="1274.01" cy="1252.42" r="3.55" fill="#000"/>
<circle cx="1274.01" cy="1280.44" r="3.55" fill="#000"/>
<circle cx="1274.01" cy="1291.65" r="3.55" fill="#000"/>
<circle cx="1274.01" cy="1312.57" r="3.55" fill="#000"/>
<circle cx="1287.64" cy="1111.93" r="3.55" fill="#F0474D"/>
<circle cx="1287.64" cy="1130.99" r="3.55" fill="#F0474D"/>
<circle cx="1287.64" cy="1190.21" r="3.55" fill="#F0474D"/>
<circle cx="1287.64" cy="1213.56" r="3.55" fill="#F0474D"/>
<circle cx="1287.64" cy="1223.46" r="3.55" fill="#F0474D"/>
<circle cx="1287.64" cy="1240.65" r="3.55" fill="#F0474D"/>
<circle cx="1287.64" cy="1252.42" r="3.55" fill="#F0474D"/>
<circle cx="1287.64" cy="1255.59" r="3.55" fill="#F0474D"/>
<circle cx="1287.64" cy="1259.89" r="3.55" fill="#F0474D"/>
<circle cx="1287.64" cy="1273.53" r="3.55" fill="#F0474D"/>
<circle cx="1287.64" cy="1334.05" r="3.55" fill="#F0474D"/>
<circle cx="1301.37" cy="1228.5" r="3.55" fill="#A61DE2"/>
<circle cx="1301.37" cy="1245.5" r="3.55" fill="#A61DE2"/>
<circle cx="1301.37" cy="1252.42" r="3.55" fill="#A61DE2"/>
<circle cx="1301.37" cy="1266.43" r="3.55" fill="#A61DE2"/>
<circle cx="1301.37" cy="1279.88" r="3.55" fill="#A61DE2"/>
<circle cx="1314.92" cy="1302.85" r="3.55" fill="#F7880F"/>
<circle cx="1314.92" cy="1340.22" r="3.55" fill="#F7880F"/>
<circle cx="1314.92" cy="1363.57" r="3.55" fill="#F7880F"/>
<circle cx="1314.92" cy="1377.58" r="3.55" fill="#F7880F"/>
<circle cx="1337.71" cy="1161.81" r="3.55" fill="#000"/>
<circle cx="1337.71" cy="1181.99" r="3.55" fill="#000"/>
<circle cx="1337.71" cy="1207.95" r="3.55" fill="#000"/>
<circle cx="1337.71" cy="1258.95" r="3.55" fill="#000"/>
<circle cx="1337.71" cy="1269.6" r="3.55" fill="#000"/>
<circle cx="1351.25" cy="1093.25" r="3.55" fill="#F0474D"/>
<circle cx="1351.25" cy="1119.41" r="3.55" fill="#F0474D"/>
<circle cx="1351.25" cy="1125.76" r="3.55" fill="#F0474D"/>
<circle cx="1349.57" cy="1135.66" r="3.55" fill="#F0474D"/>
<circle cx="1352.93" cy="1136.22" r="3.55" fill="#F0474D"/>
<circle cx="1351.25" cy="1147.43" r="3.55" fill="#F0474D"/>
<circle cx="1349.94" cy="1166.48" r="3.55" fill="#F0474D"/>
<circle cx="1352.75" cy="1166.86" r="3.55" fill="#F0474D"/>
<circle cx="1351.25" cy="1205.34" r="3.55" fill="#F0474D"/>
<circle cx="1351.25" cy="1241.21" r="3.55" fill="#F0474D"/>
<circle cx="1364.7" cy="1163.12" r="3.55" fill="#A61DE2"/>
<circle cx="1364.7" cy="1187.41" r="3.55" fill="#A61DE2"/>
<circle cx="1364.7" cy="1193.57" r="3.55" fill="#A61DE2"/>
<circle cx="1364.7" cy="1206.27" r="3.55" fill="#A61DE2"/>
<circle cx="1364.7" cy="1247.37" r="3.55" fill="#A61DE2"/>
<circle cx="1378.34" cy="1182.73" r="3.55" fill="#F7880F"/>
<circle cx="1378.34" cy="1260.82" r="3.55" fill="#F7880F"/>
<circle cx="1378.34" cy="1347.32" r="3.55" fill="#F7880F"/>
<circle cx="1378.34" cy="1361.7" r="3.55" fill="#F7880F"/>
<circle cx="1401.04" cy="1105.21" r="3.55" fill="#000"/>
<circle cx="1401.04" cy="1153.41" r="3.55" fill="#000"/>
<circle cx="1401.04" cy="1203.84" r="3.55" fill="#000"/>
<circle cx="1401.04" cy="1216.17" r="3.55" fill="#000"/>
<circle cx="1401.04" cy="1302.29" r="3.55" fill="#000"/>
<circle cx="1414.67" cy="1076.81" r="3.55" fill="#F0474D"/>
<circle cx="1414.67" cy="1095.12" r="3.55" fill="#F0474D"/>
<circle cx="1416.26" cy="1103.34" r="3.55" fill="#F0474D"/>
<circle cx="1413.09" cy="1104.83" r="3.55" fill="#F0474D"/>
<circle cx="1414.67" cy="1120.34" r="3.55" fill="#F0474D"/>
<circle cx="1414.67" cy="1127.25" r="3.55" fill="#F0474D"/>
<circle cx="1414.67" cy="1142.2" r="3.55" fill="#F0474D"/>
<circle cx="1414.67" cy="1150.98" r="3.55" fill="#F0474D"/>
<circle cx="1414.67" cy="1170.78" r="3.55" fill="#F0474D"/>
<circle cx="1414.67" cy="1240.27" r="3.55" fill="#F0474D"/>
<circle cx="1428.31" cy="1142.76" r="3.55" fill="#A61DE2"/>
<circle cx="1428.31" cy="1181.05" r="3.55" fill="#A61DE2"/>
<circle cx="1428.31" cy="1198.61" r="3.55" fill="#A61DE2"/>
<circle cx="1430.27" cy="1207.58" r="3.55" fill="#A61DE2"/>
<circle cx="1427.1" cy="1208.89" r="3.55" fill="#A61DE2"/>
<circle cx="1442.23" cy="1098.3" r="3.55" fill="#F7880F"/>
<circle cx="1442.23" cy="1169.28" r="3.55" fill="#F7880F"/>
<circle cx="1442.23" cy="1268.29" r="3.55" fill="#F7880F"/>
<circle cx="1442.23" cy="1275.21" r="3.55" fill="#F7880F"/>
<circle cx="1464.65" cy="1094.56" r="3.55" fill="#000"/>
<circle cx="1464.65" cy="1150.23" r="3.55" fill="#000"/>
<circle cx="1464.65" cy="1189.46" r="3.55" fill="#000"/>
<circle cx="1464.65" cy="1234.86" r="3.55" fill="#000"/>
<circle cx="1464.65" cy="1296.88" r="3.55" fill="#000"/>
<circle cx="1479.78" cy="1078.68" r="3.55" fill="#F0474D"/>
<circle cx="1476.98" cy="1080.92" r="3.55" fill="#F0474D"/>
<circle cx="1479.78" cy="1117.54" r="3.55" fill="#F0474D"/>
<circle cx="1477.54" cy="1121.27" r="3.55" fill="#F0474D"/>
<circle cx="1478.28" cy="1123.52" r="3.55" fill="#F0474D"/>
<circle cx="1478.28" cy="1135.1" r="3.55" fill="#F0474D"/>
<circle cx="1478.28" cy="1155.83" r="3.55" fill="#F0474D"/>
<circle cx="1478.28" cy="1167.42" r="3.55" fill="#F0474D"/>
<circle cx="1478.28" cy="1210.01" r="3.55" fill="#F0474D"/>
<circle cx="1491.73" cy="1101.47" r="3.55" fill="#A61DE2"/>
<circle cx="1491.73" cy="1134.16" r="3.55" fill="#A61DE2"/>
<circle cx="1491.73" cy="1142.2" r="3.55" fill="#A61DE2"/>
<circle cx="1491.73" cy="1154.34" r="3.55" fill="#A61DE2"/>
<circle cx="1491.73" cy="1201.42" r="3.55" fill="#A61DE2"/>
<circle cx="1505.28" cy="1113.61" r="3.55" fill="#F7880F"/>
<circle cx="1505.28" cy="1230" r="3.55" fill="#F7880F"/>
<circle cx="1505.28" cy="1303.41" r="3.55" fill="#F7880F"/>
<circle cx="1505.28" cy="1321.54" r="3.55" fill="#F7880F"/>
<circle cx="1528.07" cy="1079.99" r="3.55" fill="#000"/>
<circle cx="1528.07" cy="1128.56" r="3.55" fill="#000"/>
<circle cx="1528.07" cy="1194.88" r="3.55" fill="#000"/>
<circle cx="1528.07" cy="1236.16" r="3.55" fill="#000"/>
<circle cx="1528.07" cy="1320.04" r="3.55" fill="#000"/>
<circle cx="1540.49" cy="1078.12" r="3.55" fill="#F0474D"/>
<circle cx="1543.29" cy="1078.12" r="3.55" fill="#F0474D"/>
<circle cx="1543.29" cy="1092.69" r="3.55" fill="#F0474D"/>
<circle cx="1540.12" cy="1097.36" r="3.55" fill="#F0474D"/>
<circle cx="1541.8" cy="1109.5" r="3.55" fill="#F0474D"/>
<circle cx="1541.8" cy="1122.58" r="3.55" fill="#F0474D"/>
<circle cx="1542.92" cy="1134.72" r="3.55" fill="#F0474D"/>
<circle cx="1540.49" cy="1140.7" r="3.55" fill="#F0474D"/>
<circle cx="1541.8" cy="1153.41" r="3.55" fill="#F0474D"/>
<circle cx="1541.8" cy="1174.89" r="3.55" fill="#F0474D"/>
<circle cx="1555.34" cy="1078.68" r="3.55" fill="#A61DE2"/>
<circle cx="1555.34" cy="1136.97" r="3.55" fill="#A61DE2"/>
<circle cx="1555.34" cy="1159.01" r="3.55" fill="#A61DE2"/>
<circle cx="1556.74" cy="1165.55" r="3.55" fill="#A61DE2"/>
<circle cx="1555.34" cy="1294.45" r="3.55" fill="#A61DE2"/>
<circle cx="1568.98" cy="1079.24" r="3.55" fill="#F7880F"/>
<circle cx="1568.98" cy="1113.24" r="3.55" fill="#F7880F"/>
<circle cx="1568.98" cy="1150.6" r="3.55" fill="#F7880F"/>
<circle cx="1568.98" cy="1293.51" r="3.55" fill="#F7880F"/>
<path d="M1265 1071V1385" stroke="#000" stroke-width="2.1" fill="none"/>
<path d="M1253 1385H1579" stroke="#000" stroke-width="2.1" fill="none"/>
<path d="M1253 1072L1265 1072" stroke="#000" stroke-width="2"/>
<text text-anchor="end" x="1247.6" y="1080.2" font-size="22.8">100</text>
<path d="M1253 1134.6L1265 1134.6" stroke="#000" stroke-width="2"/>
<text text-anchor="end" x="1247.6" y="1143.62" font-size="22.8">80</text>
<path d="M1253 1197.2L1265 1197.2" stroke="#000" stroke-width="2"/>
<text text-anchor="end" x="1247.6" y="1207.04" font-size="22.8">60</text>
<path d="M1253 1259.8L1265 1259.8" stroke="#000" stroke-width="2"/>
<text text-anchor="end" x="1247.6" y="1270.46" font-size="22.8">40</text>
<path d="M1253 1322.4L1265 1322.4" stroke="#000" stroke-width="2"/>
<text text-anchor="end" x="1247.6" y="1333.88" font-size="22.8">20</text>
<text text-anchor="end" x="1247.6" y="1397.3" font-size="22.8">0</text>
<path d="M1293.9 1385L1293.9 1397" stroke="#000" stroke-width="2"/>
<text text-anchor="middle" x="1291.6" y="1427.6" font-size="26.3">T1</text>
<path d="M1357.9 1385L1357.9 1397" stroke="#000" stroke-width="2"/>
<text text-anchor="middle" x="1355.8" y="1427.6" font-size="26.3">T2</text>
<path d="M1421.6 1385L1421.6 1397" stroke="#000" stroke-width="2"/>
<text text-anchor="middle" x="1419.7" y="1427.6" font-size="26.3">T3</text>
<path d="M1484.9 1385L1484.9 1397" stroke="#000" stroke-width="2"/>
<text text-anchor="middle" x="1483.1" y="1427.6" font-size="26.3">T4</text>
<path d="M1548.6 1385L1548.6 1397" stroke="#000" stroke-width="2"/>
<text text-anchor="middle" x="1549.3" y="1427.6" font-size="26.3">T5</text>
<text text-anchor="middle" x="1419.1" y="1462" font-size="29.8">Trial</text>
<circle cx="1697.7" cy="1099.3" r="7.2" fill="#000"/>
<text x="1708.7" y="1108" font-size="26.5">Control</text>
<circle cx="1697.7" cy="1126.4" r="7.2" fill="#E85C58"/>
<text x="1708.7" y="1137" font-size="26.5">Vehicle</text>
<circle cx="1697.7" cy="1153.3" r="7.2" fill="#8E2590"/>
<text x="1708.7" y="1165.8" font-size="26.5">Psilocybin (1 mg/kg)</text>
<circle cx="1697.7" cy="1186.2" r="7.2" fill="#F0922F"/>
<text x="1708.7" y="1195" font-size="26.5">MDMA (10 mg/kg)</text>
<path d="M1957.9 1118.7L1957.9 1197.7" stroke="#000" stroke-width="3"/>
<text x="1965.6" y="1165.8" font-size="26.6">18-d stress</text>
<text x="1647.3" y="1121.9" font-size="26">a</text>
<path d="M1677.2 1099.8H1664.5V1129.1H1677.2" stroke="#000" stroke-width="2.1" fill="none"/>
<text x="1630" y="1149.8" font-size="26">b</text>
<path d="M1658.6 1131.2H1649.1V1159.9H1674.6" stroke="#000" stroke-width="2.1" fill="none"/>
<text x="1594" y="1165.8" font-size="26">c</text>
<path d="M1633.9 1129.1H1614.7V1188.9H1658.6" stroke="#000" stroke-width="2.1" fill="none"/>
<text x="1640.8" y="1250.9" font-size="26.3">(a) <tspan font-style="italic">P</tspan> = 0.0189</text>
<text x="1640.8" y="1279.2" font-size="26.3">(b) <tspan font-style="italic">P</tspan> = 0.0037</text>
<text x="1640.8" y="1307.5" font-size="26.3">(c) <tspan font-style="italic">P</tspan> = 0.0031</text>
</g>
<g id="panel_h">
<text font-weight="bold" x="83" y="1532.2" font-size="31">h</text>
<text x="120" y="1559.9" font-size="28.2">Reactome: IL-10 signaling</text>
<text text-anchor="middle" x="210.9" y="1605.4" font-size="25.5">Up in 18-d</text>
<text text-anchor="middle" x="210.9" y="1633" font-size="25.5">stress + MDMA</text>
<text text-anchor="middle" x="451.7" y="1605.4" font-size="25.5">Up in</text>
<text text-anchor="middle" x="451.9" y="1633" font-size="25.5">18-d stress</text>
<text x="571.4" y="1557.9" font-size="28.2">Reactome: IL-10 signaling</text>
<text text-anchor="middle" x="645" y="1602.2" font-size="25.5">Up in 18-d</text>
<text text-anchor="middle" x="644.7" y="1633" font-size="25.5">stress + psilocybin</text>
<text text-anchor="middle" x="878.2" y="1602.2" font-size="25.5">Up in</text>
<text text-anchor="middle" x="878.7" y="1633" font-size="25.5">18-d stress</text>
<rect x="129.8" y="1649.1" width="376.9" height="228" fill="#fff"/>
<path d="M212.5 1650.1V1809M255.4 1650.1V1809M298 1650.1V1809M340.5 1650.1V1809M383.4 1650.1V1809M425.4 1650.1V1809M468.3 1650.1V1809M130.8 1685.4H505.7M130.8 1709.1H505.7M130.8 1755.3H505.7M130.8 1778.7H505.7" stroke="#E0E0E0" stroke-width="0.9" fill="none" stroke-dasharray="2.2 2.6"/>
<path d="M129.8 1801.7L506.7 1801.7" stroke="#8C8C8C" stroke-width="1"/>
<path d="M129.8 1809.3L506.7 1809.3" stroke="#9A9A9A" stroke-width="1"/>
<rect x="130.8" y="1862.5" width="5.3" height="13.6" fill="#E02424"/>
<rect x="135.8" y="1862.5" width="14.1" height="13.6" fill="#EA3838"/>
<rect x="149.6" y="1862.5" width="23.9" height="13.6" fill="#EE3C3E"/>
<rect x="173.2" y="1862.5" width="29.9" height="13.6" fill="#F05A5C"/>
<rect x="202.8" y="1862.5" width="25.9" height="13.6" fill="#F0687E"/>
<rect x="228.4" y="1862.5" width="49.5" height="13.6" fill="#F28586"/>
<rect x="277.6" y="1862.5" width="78.8" height="13.6" fill="#F7BFDA"/>
<rect x="356.1" y="1862.5" width="35.1" height="13.6" fill="#D4D0EC"/>
<rect x="390.9" y="1862.5" width="30.5" height="13.6" fill="#BDB8DC"/>
<rect x="421.1" y="1862.5" width="19.4" height="13.6" fill="#8484C0"/>
<rect x="440.2" y="1862.5" width="38.7" height="13.6" fill="#6862AE"/>
<rect x="478.6" y="1862.5" width="9.8" height="13.6" fill="#4040A8"/>
<path d="M129.8 1862.5L506.7 1862.5" stroke="#C8C8C8" stroke-width="0.6"/>
<path d="M137.7 1811.3V1862.5M141.3 1811.3V1862.5M142.3 1811.3V1862.5M144.6 1811.3V1862.5M149.2 1811.3V1862.5M167.3 1811.3V1862.5M184 1811.3V1862.5M187 1811.3V1862.5M192.9 1811.3V1862.5M194.5 1811.3V1862.5M202.8 1811.3V1862.5M212.2 1811.3V1862.5M215.6 1811.3V1862.5M219.5 1811.3V1862.5M227.8 1811.3V1862.5M236.7 1811.3V1862.5M241.6 1811.3V1862.5M249.5 1811.3V1862.5M257.9 1811.3V1862.5M270.7 1811.3V1862.5M293 1811.3V1862.5M317 1811.3V1862.5M326.5 1811.3V1862.5M338.7 1811.3V1862.5M356.1 1811.3V1862.5M366.3 1811.3V1862.5M381.1 1811.3V1862.5M417.9 1811.3V1862.5M419.1 1811.3V1862.5" stroke="#111" stroke-width="1.15" fill="none"/>
<path d="M137.7 1862.5V1876M141.3 1862.5V1876M142.3 1862.5V1876M144.6 1862.5V1876M149.2 1862.5V1876M167.3 1862.5V1876M184 1862.5V1876M187 1862.5V1876M192.9 1862.5V1876M194.5 1862.5V1876M202.8 1862.5V1876M212.2 1862.5V1876M215.6 1862.5V1876M219.5 1862.5V1876M227.8 1862.5V1876M236.7 1862.5V1876M241.6 1862.5V1876M249.5 1862.5V1876M257.9 1862.5V1876M270.7 1862.5V1876M293 1862.5V1876M317 1862.5V1876M326.5 1862.5V1876M338.7 1862.5V1876M356.1 1862.5V1876M366.3 1862.5V1876M381.1 1862.5V1876M417.9 1862.5V1876M419.1 1862.5V1876" stroke="#000" stroke-width="0.7" fill="none" opacity="0.18"/>
<path d="M130.96 1782.47L137.22 1786.12L137.74 1772.03L141.4 1773.08L141.4 1757.94L141.92 1744.37L142.96 1730.8L145.05 1730.8L145.05 1717.76L148.7 1719.32L149.02 1705.23L166.45 1717.76L166.97 1706.8L168.01 1696.36L169.58 1695.84L170.1 1674.97L183.15 1683.31L183.88 1676.53L186.8 1677.57L186.8 1671.31L192.02 1674.44L192.02 1668.18L194.63 1669.22L194.63 1663.48L201.41 1667.66L202.98 1657.22L211.33 1662.96L211.85 1659.31L214.46 1660.35L214.98 1657.22L219.15 1655.13L227.5 1659.83L228.03 1657.22L234.81 1661.4L241.07 1659.31L249.42 1663.48L258.82 1665.57L266.12 1669.75L271.34 1671.83L273.43 1672.36L292.22 1684.36L293.78 1682.79L313.09 1695.32L320 1697.93L333.57 1705.76L355.49 1719.32L361.75 1724.54L381.58 1736.02L403.5 1749.59L413.94 1757.42L420.2 1756.9L440.03 1769.94L459.86 1782.99L488.04 1801.26" stroke="#6AB845" stroke-width="2.5" fill="none" stroke-linejoin="round"/>
<text x="343.6" y="1690.8" font-size="28.3">ID: M27605</text>
<text x="161.2" y="1761.6" font-size="27.8"><tspan font-style="italic">p</tspan>-value = 0.0051</text>
<text x="161.8" y="1795.5" font-size="27.8">NES: 1.49</text>
<rect x="129.8" y="1649.1" width="376.9" height="228" fill="none" stroke="#000" stroke-width="2.4"/>
<rect x="555.7" y="1649.1" width="377.9" height="228" fill="#fff"/>
<path d="M598.6 1650.1V1809M684.6 1650.1V1809M770.4 1650.1V1809M856.4 1650.1V1809M899.6 1650.1V1809M556.7 1671.3H932.6M556.7 1721.4H932.6M556.7 1746.5H932.6M556.7 1771.5H932.6" stroke="#E0E0E0" stroke-width="0.9" fill="none" stroke-dasharray="2.2 2.6"/>
<path d="M555.7 1796.7L933.6 1796.7" stroke="#D6D6D6" stroke-width="1"/>
<path d="M555.7 1809.3L933.6 1809.3" stroke="#9A9A9A" stroke-width="1"/>
<rect x="557.2" y="1862.5" width="7.8" height="13.6" fill="#E81216"/>
<rect x="564.7" y="1862.5" width="33.8" height="13.6" fill="#F81C24"/>
<rect x="598.2" y="1862.5" width="30.8" height="13.6" fill="#F43040"/>
<rect x="628.7" y="1862.5" width="29.3" height="13.6" fill="#F04A6A"/>
<rect x="657.7" y="1862.5" width="50.2" height="13.6" fill="#F56878"/>
<rect x="707.6" y="1862.5" width="76.1" height="13.6" fill="#F8AEDA"/>
<rect x="783.4" y="1862.5" width="34.8" height="13.6" fill="#D8D0EA"/>
<rect x="817.9" y="1862.5" width="28.9" height="13.6" fill="#C4B4DC"/>
<rect x="846.5" y="1862.5" width="19.6" height="13.6" fill="#7B68B8"/>
<rect x="865.8" y="1862.5" width="40.5" height="13.6" fill="#4E38A0"/>
<rect x="906" y="1862.5" width="9.3" height="13.6" fill="#301898"/>
<path d="M555.7 1862.5L933.6 1862.5" stroke="#C8C8C8" stroke-width="0.6"/>
<path d="M562.3 1811.3V1862.5M588.7 1811.3V1862.5M593.3 1811.3V1862.5M597.8 1811.3V1862.5M612.6 1811.3V1862.5M614.4 1811.3V1862.5M620.5 1811.3V1862.5M627.8 1811.3V1862.5M643.1 1811.3V1862.5M652.4 1811.3V1862.5M690.4 1811.3V1862.5M704.2 1811.3V1862.5M734.6 1811.3V1862.5M758.8 1811.3V1862.5M760.2 1811.3V1862.5M773.6 1811.3V1862.5M782.4 1811.3V1862.5M783.8 1811.3V1862.5M792.9 1811.3V1862.5M809.4 1811.3V1862.5M822.4 1811.3V1862.5M836 1811.3V1862.5M844.5 1811.3V1862.5M871.1 1811.3V1862.5M888.8 1811.3V1862.5M907.2 1811.3V1862.5" stroke="#111" stroke-width="1.15" fill="none"/>
<path d="M573.2 1811.3V1862.5" stroke="#6A6262" stroke-width="2.6" fill="none"/>
<path d="M562.3 1862.5V1876M588.7 1862.5V1876M593.3 1862.5V1876M597.8 1862.5V1876M612.6 1862.5V1876M614.4 1862.5V1876M620.5 1862.5V1876M627.8 1862.5V1876M643.1 1862.5V1876M652.4 1862.5V1876M690.4 1862.5V1876M704.2 1862.5V1876M734.6 1862.5V1876M758.8 1862.5V1876M760.2 1862.5V1876M773.6 1862.5V1876M782.4 1862.5V1876M783.8 1862.5V1876M792.9 1862.5V1876M809.4 1862.5V1876M822.4 1862.5V1876M836 1862.5V1876M844.5 1862.5V1876M871.1 1862.5V1876M888.8 1862.5V1876M907.2 1862.5V1876" stroke="#000" stroke-width="0.7" fill="none" opacity="0.18"/>
<path d="M557 1796.56L561.7 1801.26L562.22 1773.6L572.35 1781.43L572.66 1759.51L574.02 1761.07L574.22 1737.59L587.79 1748.55L588.31 1729.24L593.53 1733.94L593.85 1714.63L598.23 1719.32L598.44 1702.1L598.75 1685.4L612.84 1696.36L613.36 1684.36L615.97 1685.92L616.18 1676.01L620.15 1680.18L620.36 1669.75L626.93 1674.97L628.5 1656.7L642.59 1668.7L643.63 1655.66L651.98 1661.92L652.5 1655.66L659.81 1661.4L690.08 1681.75L691.12 1678.62L702.6 1688.01L705.21 1682.27L732.87 1702.62L745 1708.36L752.31 1714.1L759.61 1717.76L781.53 1732.89L807.62 1750.11L811.8 1751.16L822.24 1758.99L824.32 1757.94L834.76 1766.81L836.85 1765.25L843.11 1769.94L845.2 1768.9L868.16 1785.6L870.77 1786.64L871.81 1782.99L886.95 1793.95L889.56 1789.25L905.73 1801.26L907.3 1790.3L916.17 1796.56" stroke="#5FAF2D" stroke-width="2.5" fill="none" stroke-linejoin="round"/>
<text x="765.2" y="1690.8" font-size="28.3">ID: M27605</text>
<text x="599.8" y="1761.6" font-size="27.8"><tspan font-style="italic">p</tspan>-value = 0.057</text>
<text x="600.4" y="1795.5" font-size="27.8">NES: 1.34</text>
<rect x="555.7" y="1649.1" width="377.9" height="228" fill="none" stroke="#000" stroke-width="2.8"/>
</g>
<g id="panel_i">
<text font-weight="bold" x="1006.2" y="1531.9" font-size="31">i</text>
<text text-anchor="middle" transform="translate(1197 1698.2) rotate(-90)" font-size="29.8">Relative expression</text>
<text text-anchor="middle" transform="translate(1236 1698.2) rotate(-90)" font-size="29.6">(fold)</text>
<text text-anchor="middle" font-style="italic" x="1405.2" y="1538.8" font-size="24.8">Cx3cr1</text>
<path d="M1300 1553.7V1840.4" stroke="#000" stroke-width="1.8" fill="none"/>
<path d="M1288.6 1840.4L1506.2 1840.4" stroke="#000" stroke-width="1.8" fill="none"/>
<path d="M1289 1554.6L1300 1554.6" stroke="#000" stroke-width="1.8"/>
<text text-anchor="end" x="1283.2" y="1564" font-size="22.8">2.5</text>
<path d="M1289 1611.3L1300 1611.3" stroke="#000" stroke-width="1.8"/>
<text text-anchor="end" x="1283.2" y="1620.7" font-size="22.8">2.0</text>
<path d="M1289 1668.7L1300 1668.7" stroke="#000" stroke-width="1.8"/>
<text text-anchor="end" x="1283.2" y="1678.1" font-size="22.8">1.5</text>
<path d="M1289 1725.8L1300 1725.8" stroke="#000" stroke-width="1.8"/>
<text text-anchor="end" x="1283.2" y="1735.2" font-size="22.8">1.0</text>
<path d="M1289 1783.1L1300 1783.1" stroke="#000" stroke-width="1.8"/>
<text text-anchor="end" x="1283.2" y="1792.5" font-size="22.8">0.5</text>
<path d="M1289 1840.4L1300 1840.4" stroke="#000" stroke-width="1.8"/>
<text text-anchor="end" x="1283.2" y="1849.8" font-size="22.8">0.0</text>
<rect x="1316.6" y="1726.7" width="29" height="113.7" fill="#E3E3E3" stroke="#000" stroke-width="1.8"/>
<rect x="1364.3" y="1707.1" width="29" height="133.3" fill="#E3E3E3" stroke="#000" stroke-width="1.8"/>
<rect x="1412" y="1710.9" width="29" height="129.5" fill="#E3E3E3" stroke="#000" stroke-width="1.8"/>
<rect x="1459.5" y="1676.3" width="29" height="164.1" fill="#E3E3E3" stroke="#000" stroke-width="1.8"/>
<path d="M1331.1 1714.8V1736.9M1323.4 1714.8h15.4M1323.4 1736.9h15.4" stroke="#000" stroke-width="1.8" fill="none"/>
<path d="M1378.8 1698.8V1712.9M1371.1 1698.8h15.4M1371.1 1712.9h15.4" stroke="#000" stroke-width="1.8" fill="none"/>
<path d="M1426.5 1695.6V1723.5M1418.8 1695.6h15.4M1418.8 1723.5h15.4" stroke="#000" stroke-width="1.8" fill="none"/>
<path d="M1474 1656.5V1694.2M1466.3 1656.5h15.4M1466.3 1694.2h15.4" stroke="#000" stroke-width="1.8" fill="none"/>
<circle cx="1330.77" cy="1680.77" r="4.8" fill="#000"/>
<circle cx="1330.77" cy="1717.31" r="4.8" fill="#000"/>
<circle cx="1320.58" cy="1727.88" r="4.8" fill="#000"/>
<circle cx="1330.77" cy="1733.08" r="4.8" fill="#000"/>
<circle cx="1341.15" cy="1733.08" r="4.8" fill="#000"/>
<circle cx="1330.77" cy="1764.23" r="4.8" fill="#000"/>
<circle cx="1368.65" cy="1686.35" r="4.8" fill="#9B2A9B"/>
<circle cx="1388.85" cy="1694.04" r="4.8" fill="#9B2A9B"/>
<circle cx="1368.65" cy="1710.38" r="4.8" fill="#9B2A9B"/>
<circle cx="1388.85" cy="1712.88" r="4.8" fill="#9B2A9B"/>
<circle cx="1378.65" cy="1726.35" r="4.8" fill="#9B2A9B"/>
<circle cx="1416.15" cy="1675.77" r="4.8" fill="#F7941D"/>
<circle cx="1436.54" cy="1673.85" r="4.8" fill="#F7941D"/>
<circle cx="1426.35" cy="1687.31" r="4.8" fill="#F7941D"/>
<circle cx="1416.15" cy="1732.69" r="4.8" fill="#F7941D"/>
<circle cx="1436.54" cy="1736.35" r="4.8" fill="#F7941D"/>
<circle cx="1426.35" cy="1749.42" r="4.8" fill="#F7941D"/>
<circle cx="1473.85" cy="1615.38" r="4.8" fill="#3F5FB9"/>
<circle cx="1473.85" cy="1632.12" r="4.8" fill="#3F5FB9"/>
<circle cx="1473.85" cy="1664.81" r="4.8" fill="#3F5FB9"/>
<circle cx="1473.85" cy="1689.81" r="4.8" fill="#3F5FB9"/>
<circle cx="1473.85" cy="1716.73" r="4.8" fill="#3F5FB9"/>
<circle cx="1473.85" cy="1733.08" r="4.8" fill="#3F5FB9"/>
<path d="M1289.2 1840.4L1506.2 1840.4" stroke="#000" stroke-width="1.8"/>
<text x="1357" y="1578.3" font-size="19.8"><tspan font-style="italic">P</tspan> = 0.0161</text>
<path d="M1330.8 1663.3V1588.5H1473.5V1597.5" stroke="#000" stroke-width="1.7" fill="none"/>
<text text-anchor="end" x="1311.7" y="1883.9" font-size="21.7">Psilocybin (10 µM)</text>
<text text-anchor="middle" x="1329.7" y="1881.9" font-size="24.5" style="stroke-width:.7px">–</text>
<text text-anchor="middle" x="1377.9" y="1881.9" font-size="24.5" style="stroke-width:.7px">+</text>
<text text-anchor="middle" x="1425.5" y="1881.9" font-size="24.5" style="stroke-width:.7px">–</text>
<text text-anchor="middle" x="1473.6" y="1881.9" font-size="24.5" style="stroke-width:.7px">+</text>
<text text-anchor="end" x="1311.7" y="1914.5" font-size="21.7">Corticosterone (200 ng/mL)</text>
<text text-anchor="middle" x="1329.7" y="1912.5" font-size="24.5" style="stroke-width:.7px">–</text>
<text text-anchor="middle" x="1377.9" y="1912.5" font-size="24.5" style="stroke-width:.7px">–</text>
<text text-anchor="middle" x="1425.5" y="1912.5" font-size="24.5" style="stroke-width:.7px">+</text>
<text text-anchor="middle" x="1473.6" y="1912.5" font-size="24.5" style="stroke-width:.7px">+</text>
</g>
<g id="panel_j">
<text font-weight="bold" x="1548.5" y="1530.9" font-size="31">j</text>
<text x="1679.2" y="1528.8" font-size="27.3">Meningeal monocytes</text>
<path d="M1676 1542.6L1948.6 1542.6" stroke="#231F20" stroke-width="2"/>
<text x="1619" y="1568.6" font-size="25.6">18-d stress: <tspan fill="#D0312D" stroke="#D0312D">Psilocybin</tspan> vs. <tspan fill="#5B9BD5" stroke="#5B9BD5">vehicle</tspan></text>
<path d="M1801.5 1592.2L1801.5 1865.9" stroke="#000" stroke-width="3.4" stroke-dasharray="0 10.54" stroke-linecap="round"/>
<path d="M1821.9 1592.2L1821.9 1865.9" stroke="#000" stroke-width="3.4" stroke-dasharray="0 10.54" stroke-linecap="round"/>
<path d="M1660 1805.5L1960 1805.5" stroke="#000" stroke-width="1.9" stroke-dasharray="8.8 6.4"/>
<path d="M1811.66 1866.41L1792 1806.88L1765.05 1806.88L1769.17 1819.61L1777.59 1836.46L1787.88 1851.43L1799.12 1861.73L1806.6 1866.41Z" stroke="#000" stroke-width="2.2" fill="#000" stroke-linejoin="round"/>
<path d="M1811.66 1866.41L1833.19 1806.88L1854.53 1806.88L1851.16 1821.48L1844.42 1836.46L1835.62 1851.43L1826.26 1863.6L1819.71 1866.41Z" stroke="#000" stroke-width="2.2" fill="#000" stroke-linejoin="round"/>
<path d="M1856.4 1806.88L1871.37 1806.88L1868 1817.36L1863.7 1826.72L1857.15 1828.6L1855.28 1817.74Z" stroke="#000" stroke-width="2.2" fill="#000" stroke-linejoin="round"/>
<path d="M1768.4 1815.9h0M1781.9 1828.7h0M1752.1 1812.3h0M1755.6 1820.2h0M1756.9 1813.9h0M1776.7 1824.7h0M1792.2 1842.3h0M1784.8 1834.0h0M1801.4 1863.1h0M1778.0 1846.4h0M1758.4 1813.9h0M1755.9 1821.6h0M1800.1 1858.3h0M1765.5 1831.6h0M1758.9 1820.7h0M1771.3 1840.6h0M1780.6 1843.6h0M1772.8 1830.6h0M1751.6 1810.9h0M1761.0 1816.5h0M1763.8 1827.6h0M1777.5 1835.7h0M1753.1 1813.0h0M1769.6 1822.6h0M1764.4 1828.7h0M1768.7 1820.2h0M1802.2 1854.9h0M1807.6 1865.7h0M1761.8 1820.4h0M1760.2 1819.0h0M1789.4 1854.5h0M1755.8 1815.9h0M1770.1 1839.5h0M1756.0 1807.7h0M1763.8 1824.3h0M1764.2 1831.8h0M1770.3 1834.2h0M1779.8 1838.5h0M1768.5 1837.7h0M1763.5 1823.4h0M1783.6 1852.1h0M1786.9 1837.0h0M1780.4 1848.1h0M1776.6 1838.6h0M1792.4 1859.1h0M1797.8 1860.3h0M1804.2 1864.5h0M1773.1 1835.9h0M1780.6 1827.1h0M1760.2 1825.8h0M1783.1 1833.1h0M1787.6 1837.4h0M1765.0 1814.6h0M1784.2 1848.6h0M1753.4 1810.3h0M1788.3 1854.6h0M1776.7 1827.1h0M1764.8 1814.6h0M1754.6 1816.5h0M1767.6 1825.0h0M1763.7 1807.8h0M1772.8 1837.0h0M1792.9 1844.7h0M1773.5 1827.6h0M1764.0 1816.6h0M1765.7 1821.3h0M1766.4 1834.2h0M1767.5 1828.1h0M1778.0 1836.8h0M1750.3 1808.2h0M1767.1 1820.7h0M1785.1 1838.4h0M1795.7 1846.0h0M1793.5 1859.2h0M1772.6 1826.3h0M1794.0 1845.2h0M1794.6 1855.2h0M1799.2 1856.1h0M1791.4 1848.2h0M1762.4 1808.7h0M1783.4 1844.3h0M1787.7 1847.4h0M1798.7 1851.4h0M1779.8 1838.7h0M1779.3 1829.7h0M1778.3 1847.6h0M1757.1 1822.0h0M1790.7 1848.1h0M1780.7 1834.5h0M1776.4 1822.9h0M1776.5 1824.9h0M1771.5 1830.3h0M1770.7 1832.4h0M1765.3 1809.8h0M1763.6 1822.7h0M1766.0 1809.8h0M1777.9 1827.3h0M1783.3 1830.4h0M1758.4 1816.5h0M1760.0 1812.3h0M1762.9 1822.3h0M1774.1 1838.1h0M1771.8 1827.0h0M1779.9 1844.4h0M1765.0 1821.7h0M1773.2 1833.4h0M1800.5 1857.8h0M1754.6 1816.1h0M1781.1 1847.5h0M1789.1 1852.4h0M1776.9 1839.7h0M1788.4 1848.5h0M1754.8 1811.1h0M1781.2 1841.6h0M1772.5 1820.2h0M1766.9 1834.3h0M1762.7 1821.6h0M1779.5 1847.0h0M1774.5 1822.2h0M1762.2 1808.9h0M1769.3 1831.9h0M1798.7 1850.9h0M1756.7 1810.0h0M1805.1 1859.5h0M1771.6 1826.6h0M1758.5 1807.1h0M1765.6 1827.8h0M1760.0 1828.6h0M1749.9 1810.6h0M1795.5 1860.4h0M1769.3 1823.1h0M1767.9 1823.3h0M1808.9 1863.7h0M1772.4 1821.8h0M1775.2 1836.3h0M1799.0 1850.8h0M1800.3 1852.9h0M1768.1 1828.4h0M1763.5 1810.7h0M1764.6 1811.9h0M1762.6 1831.7h0M1787.4 1847.0h0M1795.5 1857.3h0M1763.5 1821.5h0M1801.5 1861.3h0M1755.3 1818.2h0M1785.8 1843.8h0M1761.6 1828.8h0M1756.7 1819.0h0M1767.6 1819.0h0M1835.6 1855.7h0M1850.6 1816.4h0M1849.1 1820.1h0M1834.9 1857.3h0M1850.8 1817.8h0M1851.1 1813.9h0M1842.2 1839.6h0M1835.4 1841.6h0M1835.6 1846.1h0M1855.3 1815.0h0M1827.0 1865.3h0M1854.0 1816.7h0M1853.3 1823.3h0M1850.2 1815.4h0M1825.7 1862.6h0M1843.5 1828.3h0M1823.6 1866.0h0M1843.3 1830.4h0M1849.6 1822.6h0M1833.2 1852.4h0M1850.4 1822.0h0M1841.6 1846.4h0M1842.8 1832.6h0M1843.1 1835.2h0M1824.8 1862.6h0M1843.9 1833.3h0M1829.0 1860.7h0M1854.9 1815.4h0M1838.7 1845.1h0M1850.2 1817.3h0M1847.6 1834.6h0M1847.5 1833.8h0M1832.3 1851.5h0M1846.4 1822.7h0M1840.4 1832.8h0M1847.6 1826.3h0M1852.7 1826.4h0M1828.7 1860.9h0M1836.1 1850.0h0M1823.7 1862.2h0M1833.3 1855.5h0M1848.1 1819.1h0M1830.3 1849.5h0M1836.0 1852.9h0M1832.7 1848.8h0M1852.0 1812.3h0M1850.4 1817.0h0M1832.7 1856.4h0M1829.5 1863.1h0M1845.9 1836.5h0M1843.2 1828.1h0M1853.0 1812.0h0M1825.5 1857.1h0M1852.8 1821.0h0M1823.5 1864.2h0M1847.2 1832.8h0M1834.6 1854.0h0M1845.7 1836.7h0M1843.4 1834.5h0M1834.9 1851.0h0M1865.5 1824.8h0M1862.8 1812.4h0M1866.7 1817.8h0M1860.8 1821.9h0M1857.0 1816.9h0M1866.5 1812.9h0M1862.8 1817.8h0M1866.3 1816.7h0M1858.5 1822.6h0M1869.1 1816.2h0M1856.0 1819.9h0M1858.1 1825.6h0M1857.1 1820.6h0M1864.9 1824.1h0M1864.4 1822.2h0M1870.0 1819.4h0M1862.6 1829.6h0M1859.0 1823.3h0M1862.3 1825.2h0M1857.5 1830.5h0M1861.6 1808.2h0M1860.2 1816.5h0M1862.8 1823.6h0M1861.5 1813.2h0M1859.3 1824.6h0M1859.2 1826.1h0M1862.2 1812.0h0M1857.6 1825.5h0M1863.6 1820.3h0M1859.3 1830.0h0M1861.6 1822.2h0M1863.6 1813.9h0M1865.0 1809.9h0M1870.1 1815.4h0M1870.4 1813.3h0M1862.0 1813.0h0M1862.9 1811.3h0M1860.3 1812.8h0M1860.6 1818.4h0M1862.9 1822.2h0M1881.5 1806.9h0M1862.4 1829.0h0M1857.1 1828.0h0M1765.0 1834.6h0M1757.9 1823.4h0M1749.5 1816.2h0" stroke="#000" stroke-width="3.4" fill="none" stroke-linecap="round"/>
<path d="M1835.62 1804.63L1873.99 1804.63L1881.86 1782.17L1889.91 1748.48L1897.96 1714.78L1900.58 1699.81L1897.21 1701.68L1892.34 1722.27L1886.16 1740.99L1879.99 1757.84L1873.06 1772.81L1862.76 1786.85L1847.79 1798.08Z" stroke="#D22B2B" stroke-width="2.5" fill="#D22B2B" stroke-linejoin="round"/>
<path d="M1840.8 1788.5h0M1883.6 1742.2h0M1842.6 1794.2h0M1884.0 1773.0h0M1867.1 1780.0h0M1862.9 1762.9h0M1888.0 1745.0h0M1872.4 1774.3h0M1853.6 1802.9h0M1864.0 1794.9h0M1879.7 1768.9h0M1889.4 1744.1h0M1866.7 1782.7h0M1860.6 1749.5h0M1858.5 1757.3h0M1865.4 1802.2h0M1884.7 1740.8h0M1851.5 1765.2h0M1875.7 1784.5h0M1872.5 1768.0h0M1878.2 1766.1h0M1862.2 1782.0h0M1884.3 1762.8h0M1874.6 1798.3h0M1870.1 1796.9h0M1871.2 1798.7h0M1863.4 1748.5h0M1874.7 1729.4h0M1837.3 1792.2h0M1847.6 1779.2h0M1879.4 1790.8h0M1848.4 1801.2h0M1875.2 1787.2h0M1852.3 1778.8h0M1870.1 1751.1h0M1841.1 1785.3h0M1874.8 1769.3h0M1857.3 1784.2h0M1884.2 1763.3h0M1835.4 1802.1h0M1871.8 1738.6h0M1871.9 1794.7h0M1870.8 1787.1h0M1877.0 1753.6h0M1848.5 1780.9h0M1866.5 1754.7h0M1855.8 1763.1h0M1834.3 1804.4h0M1854.6 1758.8h0M1833.6 1803.7h0M1864.1 1763.3h0M1876.4 1746.7h0M1842.1 1801.4h0M1882.4 1719.2h0M1879.6 1727.8h0M1837.9 1797.8h0M1873.7 1752.3h0M1886.8 1754.8h0M1890.0 1734.6h0M1887.9 1741.1h0M1839.0 1802.6h0M1893.7 1718.5h0M1851.1 1802.6h0M1885.7 1741.7h0M1860.6 1796.2h0M1843.5 1782.7h0M1864.7 1735.3h0M1872.6 1776.7h0M1870.6 1728.5h0M1853.9 1789.5h0M1890.1 1734.6h0M1887.4 1744.2h0M1856.3 1766.0h0M1866.3 1751.7h0M1852.9 1777.1h0M1865.9 1759.8h0M1832.7 1801.5h0M1848.2 1787.2h0M1871.7 1764.2h0M1879.6 1713.5h0M1864.6 1757.0h0M1859.7 1789.3h0M1858.0 1799.0h0M1874.0 1744.0h0M1840.7 1801.7h0M1849.2 1773.9h0M1867.9 1797.4h0M1860.5 1799.9h0M1851.9 1771.0h0M1871.4 1800.4h0M1869.7 1771.3h0M1879.2 1753.2h0M1872.6 1753.9h0M1865.8 1745.7h0M1851.2 1782.9h0M1855.1 1773.6h0M1866.2 1779.7h0M1839.9 1792.3h0M1882.9 1765.1h0M1859.5 1784.0h0M1872.2 1745.4h0M1862.2 1778.2h0M1857.6 1762.2h0M1853.0 1784.3h0M1865.0 1751.6h0M1870.1 1764.7h0M1860.1 1796.1h0M1864.8 1797.0h0M1867.6 1804.5h0M1866.2 1774.6h0M1855.4 1765.9h0M1856.5 1747.4h0M1870.0 1793.2h0M1864.1 1751.2h0M1867.0 1787.1h0M1852.7 1802.6h0M1865.8 1757.4h0M1859.0 1784.4h0M1851.8 1789.6h0M1867.1 1804.4h0M1885.7 1715.1h0M1854.8 1752.1h0M1870.6 1800.8h0M1873.1 1733.0h0M1852.5 1795.0h0M1864.7 1799.8h0M1857.6 1777.8h0M1852.1 1792.7h0M1884.7 1732.4h0M1867.3 1746.0h0M1887.0 1742.7h0M1876.1 1741.8h0M1878.9 1718.0h0M1845.3 1800.0h0M1848.9 1795.1h0M1857.2 1771.9h0M1855.7 1756.9h0M1879.6 1736.1h0M1876.0 1742.7h0M1875.7 1775.9h0M1852.3 1770.1h0M1879.6 1733.5h0M1877.4 1742.5h0M1845.5 1796.5h0M1857.8 1780.5h0M1873.6 1752.4h0M1878.4 1750.1h0M1868.0 1733.0h0M1855.4 1748.5h0M1879.0 1773.2h0M1861.3 1798.5h0M1851.5 1793.6h0M1868.3 1781.8h0M1876.2 1766.3h0M1873.6 1798.5h0M1874.3 1789.9h0M1842.7 1784.1h0M1881.3 1740.4h0M1886.9 1739.7h0M1869.5 1769.1h0M1851.5 1764.6h0M1896.7 1717.7h0M1884.3 1749.8h0M1875.9 1758.3h0M1876.2 1788.0h0M1861.2 1763.0h0M1874.9 1737.7h0M1891.0 1711.8h0M1877.1 1751.9h0M1875.8 1744.7h0M1859.4 1759.8h0M1843.5 1794.1h0M1838.9 1791.5h0M1860.9 1791.6h0M1879.5 1781.4h0M1871.4 1729.5h0M1873.2 1792.4h0M1854.3 1782.1h0M1876.8 1733.5h0M1861.4 1789.2h0M1850.9 1774.8h0M1841.0 1792.7h0M1877.8 1786.3h0M1857.8 1754.6h0M1855.6 1753.8h0M1862.3 1803.3h0M1866.9 1800.5h0M1883.5 1769.6h0M1851.8 1782.0h0M1865.6 1769.8h0M1868.4 1747.9h0M1861.3 1763.5h0M1854.3 1797.1h0M1870.4 1803.4h0M1891.9 1735.5h0M1849.4 1776.4h0M1871.9 1791.7h0M1844.6 1779.2h0M1893.5 1729.4h0M1881.8 1771.1h0M1877.1 1741.4h0M1873.5 1741.1h0M1871.6 1733.7h0M1869.3 1803.4h0M1872.7 1778.3h0M1859.8 1760.6h0M1868.7 1771.9h0M1853.6 1779.9h0M1879.3 1782.0h0M1852.2 1782.9h0M1866.6 1799.0h0M1875.5 1783.1h0M1882.3 1717.7h0M1865.1 1762.2h0M1864.9 1769.9h0M1885.3 1753.1h0M1858.4 1791.7h0M1882.5 1770.5h0M1886.8 1736.1h0M1864.0 1794.2h0M1877.3 1766.2h0M1870.3 1793.5h0M1880.6 1735.2h0M1858.8 1762.3h0M1875.3 1761.1h0M1859.6 1802.1h0M1857.3 1748.3h0M1872.3 1797.6h0M1872.5 1745.2h0M1853.2 1770.9h0M1852.6 1801.9h0M1857.8 1759.4h0M1849.2 1795.9h0M1879.9 1759.0h0M1866.6 1759.5h0M1886.7 1753.1h0M1855.3 1785.8h0M1858.0 1804.3h0M1856.0 1758.9h0M1879.7 1735.4h0M1847.6 1788.8h0M1874.2 1791.2h0M1859.8 1784.8h0M1875.0 1786.6h0M1844.2 1801.9h0M1856.4 1772.7h0M1856.9 1759.4h0M1861.0 1756.1h0M1881.2 1747.5h0M1877.1 1762.0h0M1883.2 1720.4h0M1882.1 1763.0h0M1877.2 1777.0h0M1848.5 1791.2h0M1865.7 1749.3h0M1851.8 1791.9h0M1889.0 1733.7h0M1856.5 1753.5h0M1844.8 1796.9h0M1867.2 1748.2h0M1885.4 1765.7h0M1843.5 1797.2h0M1885.3 1756.7h0M1876.8 1737.3h0M1877.5 1723.9h0M1887.7 1737.2h0M1870.5 1739.6h0M1841.7 1796.2h0M1880.4 1750.2h0M1839.0 1788.3h0M1846.6 1797.4h0M1871.7 1801.5h0M1868.5 1784.4h0M1876.0 1724.8h0M1837.6 1793.1h0M1864.7 1760.3h0M1867.4 1757.5h0M1847.5 1792.4h0M1864.2 1784.7h0M1871.7 1803.0h0M1873.0 1775.2h0M1854.4 1786.5h0M1847.8 1779.2h0M1884.7 1755.0h0M1882.0 1769.9h0M1873.4 1789.9h0M1885.4 1765.5h0M1867.1 1799.5h0M1848.3 1789.2h0M1875.3 1789.0h0M1871.4 1789.0h0M1886.1 1749.1h0M1862.1 1741.2h0M1855.2 1789.8h0M1849.6 1776.1h0M1875.9 1786.2h0M1886.8 1726.7h0M1846.4 1794.1h0M1865.0 1800.4h0M1885.9 1733.1h0M1856.7 1797.8h0M1861.2 1800.6h0M1875.9 1769.5h0M1866.5 1773.8h0M1877.4 1762.4h0M1880.4 1780.8h0M1857.7 1780.5h0M1850.2 1782.0h0M1875.0 1786.0h0M1857.0 1801.1h0M1877.9 1735.7h0M1870.1 1788.0h0M1866.1 1792.9h0M1881.1 1725.5h0M1857.1 1801.5h0M1894.9 1728.0h0M1857.3 1801.2h0M1845.1 1795.9h0M1883.8 1739.2h0M1882.3 1754.1h0M1876.5 1781.0h0M1855.8 1796.8h0M1850.7 1769.3h0M1882.1 1773.9h0M1885.7 1719.8h0M1874.8 1801.5h0M1877.9 1783.1h0M1885.6 1742.6h0M1866.4 1773.1h0M1865.2 1790.5h0M1870.3 1747.7h0M1849.8 1789.8h0M1878.7 1767.6h0M1886.9 1735.2h0M1873.7 1722.4h0M1868.7 1786.2h0M1887.1 1719.7h0M1873.7 1741.6h0M1845.4 1789.3h0M1873.8 1778.3h0M1858.3 1758.1h0M1846.6 1792.0h0M1853.5 1803.3h0M1861.9 1774.3h0M1862.0 1741.8h0M1844.4 1779.4h0M1878.7 1727.9h0M1869.1 1776.1h0M1879.8 1715.2h0M1880.0 1769.3h0M1873.9 1803.8h0M1855.3 1795.0h0M1863.4 1787.6h0M1860.7 1779.1h0M1873.4 1793.7h0M1874.4 1728.8h0M1862.1 1765.1h0M1879.0 1751.1h0M1858.3 1773.4h0M1847.5 1771.2h0M1857.8 1784.4h0M1874.0 1780.0h0M1837.6 1802.4h0M1847.5 1798.0h0M1876.6 1798.0h0M1893.3 1734.3h0M1838.3 1802.1h0M1843.9 1786.2h0M1886.7 1757.1h0M1871.4 1785.5h0M1886.0 1752.9h0M1875.1 1728.9h0M1838.8 1802.4h0M1851.7 1782.0h0M1872.2 1802.6h0M1871.7 1758.8h0M1858.8 1767.5h0M1843.4 1799.2h0M1878.9 1733.3h0M1882.0 1735.3h0M1846.9 1793.8h0M1853.5 1782.7h0M1858.8 1796.4h0M1896.5 1717.7h0M1850.7 1795.7h0M1848.8 1777.5h0M1877.6 1775.1h0M1882.1 1732.9h0M1871.2 1771.8h0M1878.1 1738.2h0M1849.7 1782.6h0M1858.9 1775.0h0M1854.4 1788.6h0M1844.1 1795.6h0M1875.7 1765.2h0M1837.9 1803.0h0M1875.3 1763.5h0M1855.8 1778.2h0M1884.4 1733.2h0M1848.0 1785.2h0M1857.0 1782.2h0M1887.7 1731.6h0M1862.3 1777.1h0M1862.9 1798.6h0M1838.7 1799.3h0M1889.6 1729.4h0M1849.2 1797.4h0M1876.0 1743.7h0M1875.3 1758.3h0M1863.0 1779.9h0M1872.1 1771.3h0M1856.1 1795.3h0M1892.1 1717.0h0M1858.4 1774.0h0M1864.5 1803.9h0M1845.9 1788.8h0M1846.6 1800.9h0M1872.3 1733.8h0M1869.2 1777.1h0M1896.0 1723.4h0M1866.5 1764.7h0M1875.9 1791.3h0M1849.4 1799.1h0M1834.8 1796.5h0M1850.8 1801.5h0M1847.7 1772.0h0M1836.4 1794.9h0M1856.0 1759.2h0M1873.4 1754.2h0M1877.0 1776.9h0M1843.5 1800.7h0M1858.9 1801.0h0M1847.0 1779.4h0M1876.0 1782.4h0M1870.6 1799.1h0M1855.3 1776.4h0M1874.1 1776.5h0M1844.5 1782.3h0M1848.6 1787.6h0M1871.0 1728.1h0M1867.4 1778.4h0M1849.2 1777.1h0M1866.5 1739.7h0M1873.4 1775.7h0M1854.3 1756.1h0M1846.8 1785.3h0M1876.0 1763.1h0M1859.9 1760.1h0M1874.4 1775.2h0M1892.1 1728.7h0M1876.0 1734.1h0M1846.6 1782.8h0M1884.8 1738.7h0M1867.0 1783.2h0M1876.4 1730.3h0M1863.5 1777.2h0M1874.2 1735.8h0M1873.1 1737.8h0M1881.9 1782.7h0M1837.7 1801.2h0M1850.7 1782.5h0M1887.5 1725.3h0M1882.9 1749.8h0M1848.8 1779.9h0M1879.6 1779.2h0M1844.4 1800.6h0M1886.1 1741.5h0M1888.9 1739.8h0M1881.5 1741.8h0M1859.5 1787.6h0M1882.8 1767.1h0M1846.6 1796.0h0M1874.2 1793.9h0M1847.8 1797.0h0M1848.4 1771.8h0M1854.0 1787.5h0M1881.5 1773.8h0M1868.2 1752.7h0M1889.9 1729.6h0M1885.0 1730.8h0M1901.0 1705.5h0M1901.7 1710.1h0M1904.7 1682.6h0M1901.9 1687.5h0M1900.5 1712.8h0M1904.3 1673.8h0M1906.7 1669.6h0M1903.1 1688.2h0M1904.5 1688.1h0M1898.9 1709.3h0M1900.7 1701.2h0M1904.7 1676.7h0M1902.6 1691.4h0M1904.0 1674.7h0M1898.5 1710.6h0M1902.7 1703.5h0M1903.2 1680.1h0M1902.2 1689.9h0M1900.3 1701.5h0M1904.9 1679.1h0M1904.4 1680.7h0M1897.0 1712.2h0M1904.1 1674.6h0M1901.6 1697.9h0M1905.1 1679.5h0M1901.1 1696.9h0M1901.8 1688.6h0M1900.4 1700.3h0M1904.6 1684.6h0M1900.6 1707.8h0M1904.1 1683.9h0M1897.8 1710.0h0M1905.4 1669.2h0M1902.0 1685.0h0M1903.6 1690.3h0M1905.7 1675.5h0M1905.5 1674.9h0M1899.4 1702.3h0M1906.8 1672.2h0M1898.6 1703.0h0M1907.4 1669.8h0M1899.1 1713.6h0M1904.7 1670.7h0M1902.4 1699.8h0M1901.5 1709.2h0M1903.2 1683.8h0M1900.9 1712.1h0M1904.6 1687.1h0M1899.5 1710.3h0M1904.2 1682.9h0M1905.0 1680.3h0M1899.5 1711.2h0M1897.4 1711.5h0M1905.0 1675.0h0M1901.3 1711.7h0M1897.7 1708.8h0M1901.4 1702.0h0M1899.3 1702.2h0M1902.0 1701.8h0M1897.1 1714.2h0M1896.5 1732.6h0M1900.7 1717.5h0M1900.5 1715.1h0M1889.1 1752.7h0M1889.4 1752.1h0M1887.3 1759.9h0M1895.6 1734.4h0M1895.3 1734.2h0M1893.9 1728.5h0M1898.6 1709.5h0M1889.8 1766.4h0M1901.7 1710.4h0M1896.8 1725.6h0M1892.8 1734.1h0M1898.0 1715.1h0M1891.8 1754.6h0M1893.0 1739.2h0M1886.4 1772.1h0M1894.8 1740.2h0M1896.0 1740.7h0M1884.0 1780.7h0M1890.4 1762.9h0M1883.4 1786.0h0M1887.0 1763.8h0M1895.7 1740.9h0M1900.4 1709.3h0M1891.8 1746.4h0M1896.4 1733.0h0M1895.8 1734.8h0M1896.1 1726.2h0M1892.2 1745.9h0M1892.0 1755.9h0M1891.8 1747.9h0M1890.1 1763.2h0M1887.2 1773.3h0M1896.5 1720.1h0M1895.8 1725.8h0M1882.1 1791.6h0M1885.4 1773.6h0M1889.7 1756.6h0M1897.2 1731.6h0M1893.3 1730.5h0M1900.1 1710.9h0M1899.1 1723.1h0M1893.6 1735.8h0M1898.2 1725.5h0M1890.4 1748.3h0M1887.4 1766.8h0M1899.2 1719.8h0M1888.4 1758.5h0M1895.2 1742.4h0M1891.7 1744.9h0M1887.8 1764.6h0M1897.0 1734.6h0M1885.1 1778.8h0M1886.6 1766.2h0M1889.1 1748.5h0M1889.8 1749.9h0M1891.2 1748.2h0M1897.7 1718.7h0M1896.4 1733.5h0M1887.2 1760.5h0M1897.9 1724.0h0M1890.0 1748.5h0M1891.3 1751.1h0M1890.5 1747.9h0M1893.2 1751.2h0M1886.0 1774.4h0M1887.8 1769.2h0M1894.8 1735.3h0M1889.9 1762.9h0M1893.0 1743.9h0M1887.7 1767.8h0M1896.5 1719.3h0M1893.8 1732.0h0M1898.1 1710.8h0M1900.8 1702.2h0M1896.4 1735.0h0M1891.8 1739.4h0M1888.1 1761.5h0M1912.9 1640.3h0M1907.7 1667.0h0M1907.3 1669.9h0M1890.5 1677.3h0M1881.5 1696.4h0M1870.3 1699.8h0M1883.7 1708.2h0M1875.9 1714.8h0M1856.2 1727.9h0M1864.3 1727.9h0M1895.0 1742.9h0M1912.0 1750.3h0M1889.5 1759.1h0M1882.4 1779.9h0M1877.7 1791.5h0M1874.9 1802.8h0M1876.8 1803.7h0M1838.4 1779.9h0M1898.3 1718.5h0M1903.0 1686.7h0M1904.3 1681.1h0" stroke="#D22B2B" stroke-width="3.4" fill="none" stroke-linecap="round"/>
<path d="M1782.5 1777.4h0M1761.3 1794.0h0M1745.6 1783.0h0M1788.3 1800.0h0M1767.8 1778.4h0M1761.5 1800.8h0M1769.2 1791.6h0M1753.7 1791.9h0M1747.9 1783.0h0M1781.9 1778.4h0M1750.4 1797.4h0M1775.0 1786.1h0M1752.4 1782.0h0M1769.1 1773.1h0M1780.8 1782.0h0M1743.6 1782.6h0M1776.4 1776.5h0M1751.3 1796.3h0M1748.4 1804.5h0M1781.3 1784.8h0M1751.4 1787.4h0M1762.5 1791.8h0M1772.6 1790.6h0M1747.7 1802.8h0M1775.1 1793.0h0M1759.2 1785.3h0M1747.5 1802.4h0M1779.5 1804.3h0M1776.2 1801.9h0M1780.1 1781.1h0M1757.3 1795.6h0M1783.2 1789.8h0M1745.8 1785.2h0M1745.7 1791.9h0M1742.7 1791.6h0M1752.9 1803.3h0M1744.1 1797.8h0M1775.9 1796.1h0M1767.2 1796.2h0M1766.6 1771.7h0M1747.7 1791.5h0M1779.6 1787.9h0M1787.4 1796.2h0M1755.0 1801.4h0M1775.7 1801.5h0M1773.3 1801.8h0M1771.0 1796.1h0M1774.5 1799.8h0M1744.7 1781.9h0M1788.9 1804.5h0M1780.4 1788.1h0M1741.5 1780.0h0M1759.8 1797.9h0M1769.2 1770.4h0M1760.3 1797.3h0M1769.1 1785.8h0M1766.8 1776.6h0M1777.1 1795.7h0M1739.8 1799.2h0M1752.4 1801.0h0M1768.7 1776.7h0M1778.7 1787.4h0M1766.8 1801.4h0M1763.3 1788.2h0M1775.6 1802.3h0M1754.7 1799.1h0M1772.5 1795.7h0M1775.6 1783.5h0M1779.6 1802.5h0M1765.4 1777.0h0M1781.0 1767.6h0M1779.4 1801.7h0M1746.2 1797.5h0M1767.1 1801.4h0M1775.4 1785.8h0M1780.9 1782.5h0M1781.9 1796.6h0M1788.3 1796.1h0M1778.9 1794.4h0M1782.5 1804.0h0M1782.6 1801.1h0M1768.1 1772.1h0M1784.0 1799.7h0M1775.2 1790.0h0M1779.6 1794.1h0M1779.2 1780.7h0M1756.3 1799.2h0M1741.3 1793.5h0M1773.6 1763.5h0M1773.4 1799.0h0M1780.2 1791.8h0M1766.2 1791.1h0M1752.7 1792.9h0M1784.2 1788.4h0M1758.0 1801.1h0M1744.0 1788.3h0M1754.0 1782.8h0M1786.5 1801.3h0M1738.7 1797.8h0M1757.7 1796.9h0M1778.2 1780.8h0M1748.0 1795.7h0M1742.2 1803.6h0M1785.7 1802.2h0M1741.1 1783.0h0M1700.5 1735.7h0M1720.5 1775.1h0M1726.5 1780.3h0M1729.5 1785.5h0M1737.0 1756.9h0M1743.9 1761.0h0M1734.5 1775.2h0M1737.3 1787.8h0M1733.0 1791.5h0M1732.3 1795.8h0M1741.1 1794.3h0M1777.6 1760.6h0M1775.2 1765.3h0M1768.2 1767.6h0M1775.7 1771.3h0M1782.3 1772.8h0M1747.6 1771.3h0M1741.1 1799.0h0M1742.0 1802.8h0" stroke="#5B9BD5" stroke-width="3.5" fill="none" stroke-linecap="round"/>
<path d="M1931.1 1665.2L1857.1 1795.3" stroke="#000" stroke-width="1.4"/>
<text font-style="italic" x="1934" y="1660.5" font-size="24.2">Cx3cr1</text>
<path d="M1659 1591.1V1865.9" stroke="#000" stroke-width="1.8" fill="none"/>
<path d="M1647.5 1865.9H1965.7" stroke="#000" stroke-width="1.8" fill="none"/>
<text text-anchor="end" x="1643.6" y="1874.3" font-size="23.4">0</text>
<path d="M1647.5 1774.7L1659 1774.7" stroke="#000" stroke-width="1.8"/>
<text text-anchor="end" x="1643.6" y="1783.1" font-size="23.4">2</text>
<path d="M1647.5 1683.3L1659 1683.3" stroke="#000" stroke-width="1.8"/>
<text text-anchor="end" x="1643.6" y="1691.7" font-size="23.4">4</text>
<path d="M1647.5 1592L1659 1592" stroke="#000" stroke-width="1.8"/>
<text text-anchor="end" x="1643.6" y="1600.4" font-size="23.4">6</text>
<path d="M1658.9 1865.9L1658.9 1876.7" stroke="#000" stroke-width="1.8"/>
<text text-anchor="middle" x="1657.4" y="1897.7" font-size="23.4">–15</text>
<path d="M1709.9 1865.9L1709.9 1876.7" stroke="#000" stroke-width="1.8"/>
<text text-anchor="middle" x="1708.4" y="1897.7" font-size="23.4">–10</text>
<path d="M1760.9 1865.9L1760.9 1876.7" stroke="#000" stroke-width="1.8"/>
<text text-anchor="middle" x="1759.4" y="1897.7" font-size="23.4">–5</text>
<path d="M1811.9 1865.9L1811.9 1876.7" stroke="#000" stroke-width="1.8"/>
<text text-anchor="middle" x="1811.9" y="1897.7" font-size="23.4">0</text>
<path d="M1862.9 1865.9L1862.9 1876.7" stroke="#000" stroke-width="1.8"/>
<text text-anchor="middle" x="1862.9" y="1897.7" font-size="23.4">5</text>
<path d="M1913.9 1865.9L1913.9 1876.7" stroke="#000" stroke-width="1.8"/>
<text text-anchor="middle" x="1913.9" y="1897.7" font-size="23.4">10</text>
<path d="M1964.9 1865.9L1964.9 1876.7" stroke="#000" stroke-width="1.8"/>
<text text-anchor="middle" x="1964.9" y="1897.7" font-size="23.4">15</text>
<text text-anchor="middle" x="1811.6" y="1934.1" font-size="28.7">log<tspan font-size="17.5" dy="6">2</tspan><tspan dy="-6">(FC)</tspan></text>
<text transform="translate(1613.2 1737) rotate(-90) scale(1 1.19)" text-anchor="middle" font-size="29.6">–log<tspan font-size="18" dy="5">10</tspan><tspan dy="-5">(</tspan><tspan font-style="italic">p</tspan>-value)</text>
</g>
</svg>
</body></html>
